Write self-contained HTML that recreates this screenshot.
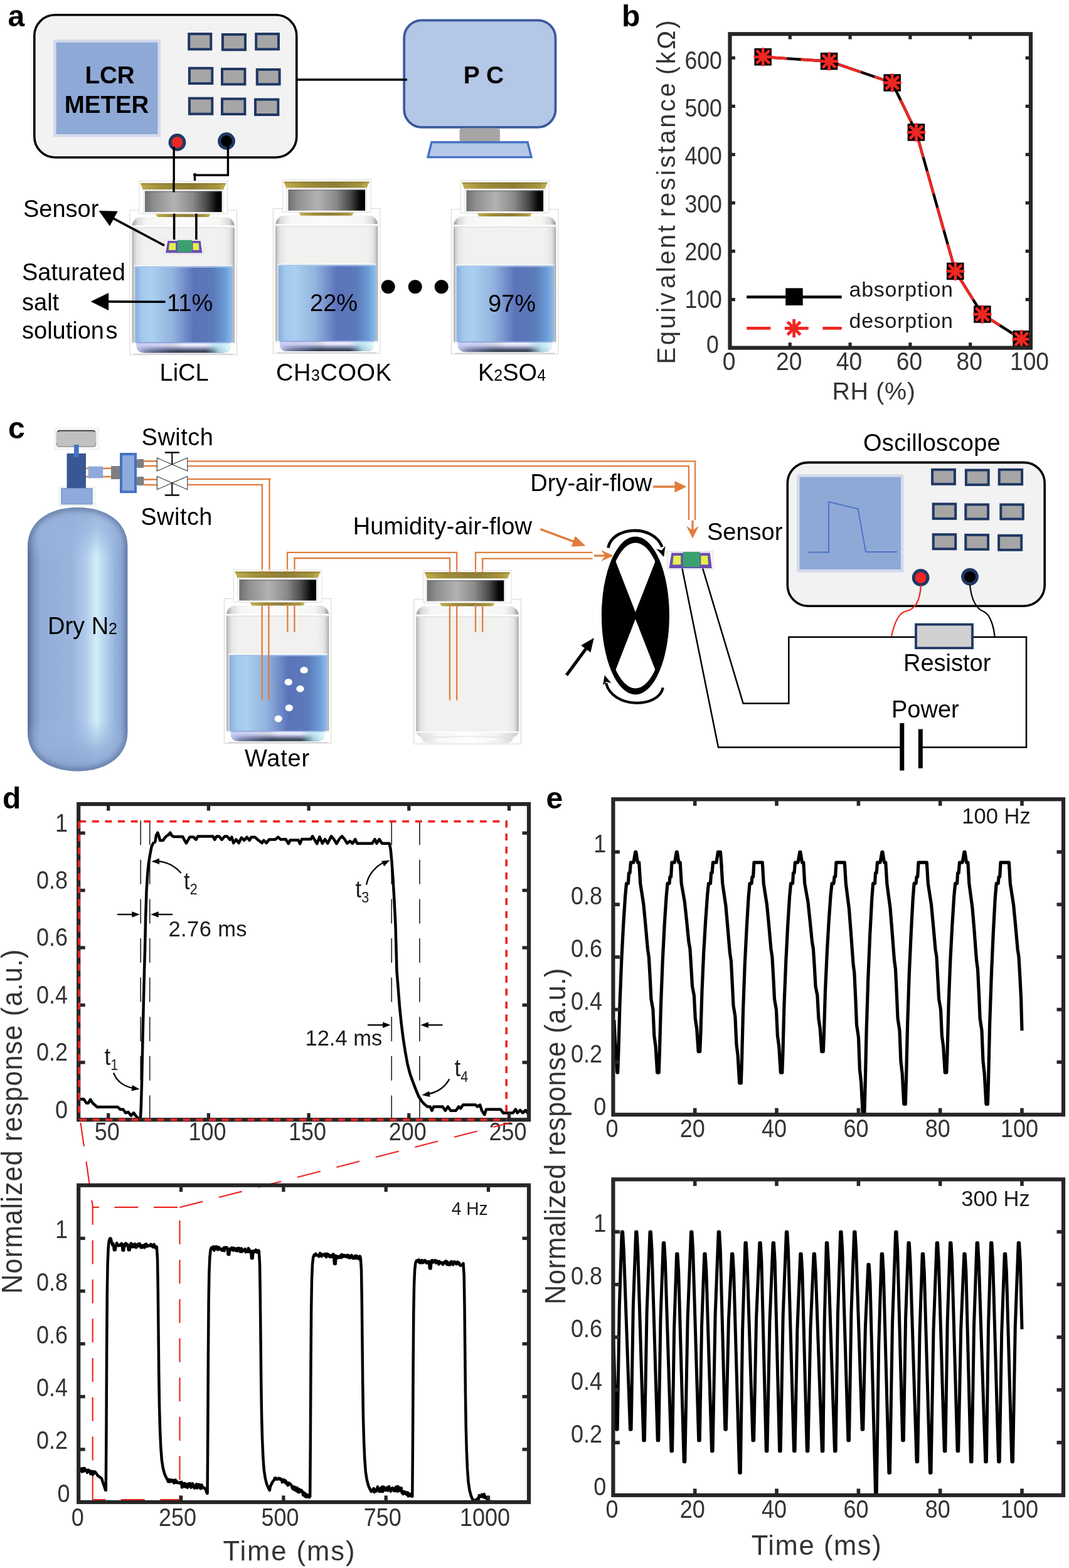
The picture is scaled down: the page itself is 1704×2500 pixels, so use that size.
<!DOCTYPE html>
<html lang="en"><head><meta charset="utf-8"><title>Figure</title>
<style>html,body{margin:0;padding:0;background:#fff}svg{display:block}text{font-family:'Liberation Sans', Arial, Helvetica, sans-serif}</style></head>
<body>
<svg width="1704" height="2500" viewBox="0 0 1704 2500" style="filter:blur(0.55px)">
<defs>
<linearGradient id="gLid" x1="0" x2="1" y1="0" y2="0">
 <stop offset="0" stop-color="#6f6f6f"/><stop offset="0.12" stop-color="#8f8f8f"/><stop offset="0.38" stop-color="#b2b2b2"/>
 <stop offset="0.62" stop-color="#8a8a8a"/><stop offset="0.8" stop-color="#4a4a4a"/><stop offset="0.93" stop-color="#080808"/><stop offset="1" stop-color="#000"/>
</linearGradient>
<linearGradient id="gGold" x1="0" x2="1" y1="0" y2="0">
 <stop offset="0" stop-color="#c2ae4c"/><stop offset="0.25" stop-color="#a08d3a"/><stop offset="0.6" stop-color="#8e7d36"/><stop offset="0.9" stop-color="#a8963f"/><stop offset="1" stop-color="#c9b755"/>
</linearGradient>
<linearGradient id="gGlass" x1="0" x2="1" y1="0" y2="0">
 <stop offset="0" stop-color="#a8a8a8"/><stop offset="0.02" stop-color="#cfcfcf"/><stop offset="0.05" stop-color="#e6e6e6"/><stop offset="0.11" stop-color="#f1f1ef"/>
 <stop offset="0.89" stop-color="#f1f1ef"/><stop offset="0.95" stop-color="#e6e6e6"/><stop offset="0.98" stop-color="#cccccc"/><stop offset="1" stop-color="#a0a0a0"/>
</linearGradient>
<linearGradient id="gLiq" x1="0" x2="1" y1="0" y2="0">
 <stop offset="0" stop-color="#86aee0"/><stop offset="0.07" stop-color="#a3c9ec"/><stop offset="0.17" stop-color="#a9d0ef"/><stop offset="0.38" stop-color="#92b3de"/>
 <stop offset="0.6" stop-color="#5c73bb"/><stop offset="0.8" stop-color="#5b7bb9"/><stop offset="0.92" stop-color="#6b9bd7"/><stop offset="1" stop-color="#8fbde9"/>
</linearGradient>
<linearGradient id="gShoulder" x1="0" x2="1" y1="0" y2="0">
 <stop offset="0" stop-color="#9c9c9c"/><stop offset="0.05" stop-color="#dcdcdc"/><stop offset="0.14" stop-color="#f6f6f5"/><stop offset="0.5" stop-color="#fbfbfb"/>
 <stop offset="0.86" stop-color="#f6f6f5"/><stop offset="0.95" stop-color="#dadada"/><stop offset="1" stop-color="#949494"/>
</linearGradient>
<linearGradient id="gFootV" x1="0" x2="0" y1="0" y2="1">
 <stop offset="0" stop-color="#b9c4ee"/><stop offset="0.16" stop-color="#f1f1ff"/><stop offset="0.36" stop-color="#dcdcf4"/><stop offset="0.56" stop-color="#9298b8"/>
 <stop offset="0.8" stop-color="#465268"/><stop offset="1" stop-color="#2c3646"/>
</linearGradient>
<linearGradient id="gFootH" x1="0" x2="1" y1="0" y2="0">
 <stop offset="0" stop-color="#c4cdf6" stop-opacity="0.95"/><stop offset="0.1" stop-color="#b4bcec" stop-opacity="0.55"/><stop offset="0.3" stop-color="#8890c8" stop-opacity="0.25"/><stop offset="0.5" stop-color="#000" stop-opacity="0"/>
 <stop offset="0.74" stop-color="#88c8d8" stop-opacity="0.0"/><stop offset="0.88" stop-color="#b8e6f0" stop-opacity="0.85"/><stop offset="1" stop-color="#e2fbff" stop-opacity="1"/>
</linearGradient>
<linearGradient id="gBot" x1="0" x2="1" y1="0" y2="0">
 <stop offset="0" stop-color="#c8d0ee"/><stop offset="0.2" stop-color="#b0b4d8"/><stop offset="0.5" stop-color="#50586a"/><stop offset="0.72" stop-color="#3a4a55"/><stop offset="0.9" stop-color="#9cc8d8"/><stop offset="1" stop-color="#d8f8ff"/>
</linearGradient>
<linearGradient id="gBotV" x1="0" x2="0" y1="0" y2="1">
 <stop offset="0" stop-color="#eef0ff" stop-opacity="0.95"/><stop offset="0.45" stop-color="#e0e4fa" stop-opacity="0.55"/><stop offset="1" stop-color="#fff" stop-opacity="0"/>
</linearGradient>
<linearGradient id="gBotE" x1="0" x2="1" y1="0" y2="0">
 <stop offset="0" stop-color="#d8d8d8"/><stop offset="0.2" stop-color="#f4f4f4"/><stop offset="0.5" stop-color="#ffffff"/><stop offset="0.8" stop-color="#f0f0f0"/><stop offset="1" stop-color="#d0d0d0"/>
</linearGradient>
<linearGradient id="gCyl" x1="0" x2="1" y1="0" y2="0">
 <stop offset="0" stop-color="#65779a"/><stop offset="0.04" stop-color="#7b93bd"/><stop offset="0.13" stop-color="#93add9"/><stop offset="0.45" stop-color="#9bb5de"/>
 <stop offset="0.58" stop-color="#afcbeb"/><stop offset="0.69" stop-color="#d3edf8"/><stop offset="0.78" stop-color="#b4d1ed"/><stop offset="0.88" stop-color="#94b1dc"/><stop offset="0.96" stop-color="#88a5d1"/><stop offset="1" stop-color="#7892bd"/>
</linearGradient>
<linearGradient id="gCylTop" x1="0" x2="0" y1="0" y2="1">
 <stop offset="0" stop-color="#93aed8" stop-opacity="0.9"/><stop offset="0.45" stop-color="#98b3dc" stop-opacity="0.7"/><stop offset="1" stop-color="#9ab5df" stop-opacity="0"/>
</linearGradient>
<linearGradient id="gCylBot" x1="0" x2="0" y1="1" y2="0">
 <stop offset="0" stop-color="#8aa5d0" stop-opacity="1"/><stop offset="0.45" stop-color="#92aed8" stop-opacity="0.8"/><stop offset="1" stop-color="#9ab5df" stop-opacity="0"/>
</linearGradient>
<linearGradient id="gHandle" x1="0" x2="0" y1="0" y2="1">
 <stop offset="0" stop-color="#3a3a3a"/><stop offset="0.12" stop-color="#9a9a9a"/><stop offset="0.25" stop-color="#c2c2c2"/><stop offset="0.85" stop-color="#bcbcbc"/><stop offset="1" stop-color="#a0a0a0"/>
</linearGradient>
</defs>
<text x="12.5" y="42.0" font-size="48" text-anchor="start" font-weight="bold" fill="#000" >a</text>
<rect x="54.8" y="23.8" width="418.0" height="227.2" rx="33" ry="33" fill="#f2f2f2" stroke="#000" stroke-width="3.6"/>
<rect x="85.0" y="63.0" width="171.0" height="155.5" fill="#d3dbeb"/>
<rect x="89.6" y="67.6" width="161.8" height="146.3" fill="#8fa9d7"/>
<rect x="301.2" y="54.1" width="35.1" height="24.4" fill="#a6a6a6" stroke="#1f3864" stroke-width="4"/>
<rect x="354.9" y="55.0" width="36.1" height="24.4" fill="#a6a6a6" stroke="#1f3864" stroke-width="4"/>
<rect x="408.2" y="54.1" width="35.8" height="24.4" fill="#a6a6a6" stroke="#1f3864" stroke-width="4"/>
<rect x="301.9" y="108.7" width="36.4" height="24.4" fill="#a6a6a6" stroke="#1f3864" stroke-width="4"/>
<rect x="354.0" y="110.0" width="36.4" height="24.4" fill="#a6a6a6" stroke="#1f3864" stroke-width="4"/>
<rect x="409.8" y="110.9" width="35.8" height="23.5" fill="#a6a6a6" stroke="#1f3864" stroke-width="4"/>
<rect x="301.9" y="156.7" width="36.4" height="25.0" fill="#a6a6a6" stroke="#1f3864" stroke-width="4"/>
<rect x="354.0" y="157.6" width="36.4" height="24.4" fill="#a6a6a6" stroke="#1f3864" stroke-width="4"/>
<rect x="407.0" y="158.6" width="36.4" height="24.4" fill="#a6a6a6" stroke="#1f3864" stroke-width="4"/>
<circle cx="282.5" cy="227.0" r="11.4" fill="#ee2722" stroke="#1f3864" stroke-width="5.0"/>
<circle cx="361.0" cy="225.0" r="11.4" fill="#000" stroke="#1f3864" stroke-width="5.0"/>
<path d="M277.2,234 V307" fill="none" stroke="#000" stroke-width="3.4"/>
<path d="M363.4,232 V279.2 H310.5 V288.5" fill="none" stroke="#000" stroke-width="3.4"/>
<circle cx="310.5" cy="278.6" r="2.6" fill="#000"/>
<text x="175.0" y="132.5" font-size="38.5" text-anchor="middle" font-weight="bold" fill="#000" >LCR</text>
<text x="170.0" y="179.5" font-size="38.5" text-anchor="middle" font-weight="bold" fill="#000" >METER</text>
<rect x="644.2" y="32.4" width="241.3" height="170.4" rx="28" ry="28" fill="#b4c7e7" stroke="#3c5a9a" stroke-width="3.8"/>
<line x1="473" y1="127" x2="649" y2="127" stroke="#000" stroke-width="3.6"/>
<rect x="732.5" y="204.5" width="64.5" height="22" rx="4" fill="#a6a6a6"/>
<polygon points="688,226.8 841,226.8 847,250.6 682,250.6" fill="#b4c7e7" stroke="#4472c4" stroke-width="3.4"/>
<text x="771.0" y="132.5" font-size="39" text-anchor="middle" font-weight="bold" fill="#000" >P C</text>
<g transform="translate(206.9,334.9)">
<rect x="0" y="0" width="170.5" height="230.8" fill="#fff" stroke="#d4d4d4" stroke-width="1"/>
<g transform="translate(0,1.3)">
<path d="M15,9.6 H155.5 Q166.9,13 166.9,25 V212 H3.6 V25 Q3.6,13 15,9.6 Z" fill="url(#gGlass)"/>
<path d="M4.2,25 Q4.2,14.5 15,10.6 H155.5 Q166.3,14.5 166.3,25 Z" fill="url(#gShoulder)"/>
<rect x="3.8" y="23.2" width="162.9" height="2.8" fill="#fdfdfd"/>
<rect x="3.8" y="26" width="162.9" height="1.4" fill="#dadada" opacity="0.8"/>
<rect x="7" y="86.6" width="157.2" height="2" fill="#fafafa"/>
<rect x="8.6" y="88.4" width="155.4" height="121.6" fill="url(#gLiq)"/>
<rect x="8.6" y="88.4" width="155.4" height="2.2" fill="#a6c6ec" opacity="0.8"/>
<rect x="3.6" y="209.8" width="163.3" height="3" fill="#f4f4f4"/>
<path d="M10.4,209.6 H160.6 V213.5 Q160.6,226.2 147,226.2 H24 Q10.4,226.2 10.4,213.5 Z" fill="url(#gFootV)"/>
<path d="M10.4,209.6 H160.6 V213.5 Q160.6,226.2 147,226.2 H24 Q10.4,226.2 10.4,213.5 Z" fill="url(#gFootH)"/>
<rect x="10.4" y="209.4" width="150.2" height="1.6" fill="#7f98d6" opacity="0.75"/>
<path d="M6,228.3 H164.5" stroke="#d2d2d2" stroke-width="1.6" fill="none"/>
</g>
<rect x="15" y="-46.1" width="140.6" height="51.9" fill="#fff" stroke="#dcdcdc" stroke-width="1"/>
<polygon points="16.8,-43 153.6,-43 149.3,-33 20.8,-33" fill="url(#gGold)"/>
<polygon points="16.8,-43 153.6,-43 152.6,-40.6 17.8,-40.6" fill="#6f6022" opacity="0.35"/>
<rect x="21.4" y="-32.4" width="127.7" height="38.4" fill="#fbfbfb" stroke="#dedede" stroke-width="0.8"/>
<rect x="24.0" y="-30.2" width="122.7" height="33.4" fill="url(#gLid)"/>
<rect x="24.0" y="-30.2" width="122.7" height="1.6" fill="#555" opacity="0.5"/>
<polygon points="41.2,6.3 128.6,6.3 125.8,11.2 44,11.2" fill="url(#gGold)"/>
</g>
<g transform="translate(435.4,332.6)">
<rect x="0" y="0" width="170.5" height="230.8" fill="#fff" stroke="#d4d4d4" stroke-width="1"/>
<g transform="translate(0,1.3)">
<path d="M15,9.6 H155.5 Q166.9,13 166.9,25 V212 H3.6 V25 Q3.6,13 15,9.6 Z" fill="url(#gGlass)"/>
<path d="M4.2,25 Q4.2,14.5 15,10.6 H155.5 Q166.3,14.5 166.3,25 Z" fill="url(#gShoulder)"/>
<rect x="3.8" y="23.2" width="162.9" height="2.8" fill="#fdfdfd"/>
<rect x="3.8" y="26" width="162.9" height="1.4" fill="#dadada" opacity="0.8"/>
<rect x="7" y="86.6" width="157.2" height="2" fill="#fafafa"/>
<rect x="8.6" y="88.4" width="155.4" height="121.6" fill="url(#gLiq)"/>
<rect x="8.6" y="88.4" width="155.4" height="2.2" fill="#a6c6ec" opacity="0.8"/>
<rect x="3.6" y="209.8" width="163.3" height="3" fill="#f4f4f4"/>
<path d="M10.4,209.6 H160.6 V213.5 Q160.6,226.2 147,226.2 H24 Q10.4,226.2 10.4,213.5 Z" fill="url(#gFootV)"/>
<path d="M10.4,209.6 H160.6 V213.5 Q160.6,226.2 147,226.2 H24 Q10.4,226.2 10.4,213.5 Z" fill="url(#gFootH)"/>
<rect x="10.4" y="209.4" width="150.2" height="1.6" fill="#7f98d6" opacity="0.75"/>
<path d="M6,228.3 H164.5" stroke="#d2d2d2" stroke-width="1.6" fill="none"/>
</g>
<rect x="15" y="-46.1" width="140.6" height="51.9" fill="#fff" stroke="#dcdcdc" stroke-width="1"/>
<polygon points="16.8,-43 153.6,-43 149.3,-33 20.8,-33" fill="url(#gGold)"/>
<polygon points="16.8,-43 153.6,-43 152.6,-40.6 17.8,-40.6" fill="#6f6022" opacity="0.35"/>
<rect x="21.4" y="-32.4" width="127.7" height="38.4" fill="#fbfbfb" stroke="#dedede" stroke-width="0.8"/>
<rect x="24.0" y="-30.2" width="122.7" height="33.4" fill="url(#gLid)"/>
<rect x="24.0" y="-30.2" width="122.7" height="1.6" fill="#555" opacity="0.5"/>
<polygon points="41.2,6.3 128.6,6.3 125.8,11.2 44,11.2" fill="url(#gGold)"/>
</g>
<g transform="translate(719.4,333.8)">
<rect x="0" y="0" width="170.5" height="230.8" fill="#fff" stroke="#d4d4d4" stroke-width="1"/>
<g transform="translate(0,1.3)">
<path d="M15,9.6 H155.5 Q166.9,13 166.9,25 V212 H3.6 V25 Q3.6,13 15,9.6 Z" fill="url(#gGlass)"/>
<path d="M4.2,25 Q4.2,14.5 15,10.6 H155.5 Q166.3,14.5 166.3,25 Z" fill="url(#gShoulder)"/>
<rect x="3.8" y="23.2" width="162.9" height="2.8" fill="#fdfdfd"/>
<rect x="3.8" y="26" width="162.9" height="1.4" fill="#dadada" opacity="0.8"/>
<rect x="7" y="86.6" width="157.2" height="2" fill="#fafafa"/>
<rect x="8.6" y="88.4" width="155.4" height="121.6" fill="url(#gLiq)"/>
<rect x="8.6" y="88.4" width="155.4" height="2.2" fill="#a6c6ec" opacity="0.8"/>
<rect x="3.6" y="209.8" width="163.3" height="3" fill="#f4f4f4"/>
<path d="M10.4,209.6 H160.6 V213.5 Q160.6,226.2 147,226.2 H24 Q10.4,226.2 10.4,213.5 Z" fill="url(#gFootV)"/>
<path d="M10.4,209.6 H160.6 V213.5 Q160.6,226.2 147,226.2 H24 Q10.4,226.2 10.4,213.5 Z" fill="url(#gFootH)"/>
<rect x="10.4" y="209.4" width="150.2" height="1.6" fill="#7f98d6" opacity="0.75"/>
<path d="M6,228.3 H164.5" stroke="#d2d2d2" stroke-width="1.6" fill="none"/>
</g>
<rect x="15" y="-46.1" width="140.6" height="51.9" fill="#fff" stroke="#dcdcdc" stroke-width="1"/>
<polygon points="16.8,-43 153.6,-43 149.3,-33 20.8,-33" fill="url(#gGold)"/>
<polygon points="16.8,-43 153.6,-43 152.6,-40.6 17.8,-40.6" fill="#6f6022" opacity="0.35"/>
<rect x="21.4" y="-32.4" width="127.7" height="38.4" fill="#fbfbfb" stroke="#dedede" stroke-width="0.8"/>
<rect x="24.0" y="-30.2" width="122.7" height="33.4" fill="url(#gLid)"/>
<rect x="24.0" y="-30.2" width="122.7" height="1.6" fill="#555" opacity="0.5"/>
<polygon points="41.2,6.3 128.6,6.3 125.8,11.2 44,11.2" fill="url(#gGold)"/>
</g>
<line x1="277" y1="288" x2="277" y2="306.5" stroke="#000" stroke-width="3.4"/>
<line x1="277.6" y1="340.7" x2="277.6" y2="383" stroke="#000" stroke-width="3.6"/>
<line x1="312.9" y1="340.7" x2="312.9" y2="383" stroke="#000" stroke-width="3.6"/>
<g transform="translate(264.0,383.3) scale(1.0034,1.0000)">
<rect x="-2.5" y="-1" width="62.5" height="22.5" fill="#fafafa" stroke="#d8d8d8" stroke-width="0.8"/>
<polygon points="3.3,0.7 55.6,0.7 58.2,20 0,20" fill="#6b4db2"/>
<rect x="18.8" y="-0.4" width="23.2" height="18.8" fill="#3aa06f"/>
<polygon points="6,4.3 16,4.3 16,15.5 4.8,15.5" fill="#e3f04d"/>
<polygon points="43.3,4.3 52.6,4.3 53.4,15.5 43.3,15.5" fill="#e3f04d"/>
</g>
<line x1="262.0" y1="391.4" x2="180.9" y2="348.4" stroke="#000" stroke-width="3.6"/>
<polygon points="157.5,336.0 187.7,336.7 181.4,348.6 175.0,360.6" fill="#000"/>
<line x1="263.6" y1="481.2" x2="172.6" y2="480.9" stroke="#000" stroke-width="3.6"/>
<polygon points="144.6,480.8 173.1,466.9 173.1,480.9 173.1,494.9" fill="#000"/>
<text x="37.0" y="346.0" font-size="38" text-anchor="start" font-weight="normal" fill="#000" >Sensor</text>
<text x="35.0" y="447.0" font-size="38" text-anchor="start" font-weight="normal" fill="#000" >Saturated</text>
<text x="35.0" y="494.6" font-size="38" text-anchor="start" font-weight="normal" fill="#000" >salt</text>
<text x="35.0" y="539.8" font-size="38" text-anchor="start" font-weight="normal" fill="#000" >solution<tspan dx="2.4">s</tspan></text>
<text x="266.0" y="495.6" font-size="38" text-anchor="start" font-weight="normal" fill="#000" >11%</text>
<text x="494.0" y="495.6" font-size="38" text-anchor="start" font-weight="normal" fill="#000" >22%</text>
<text x="778.0" y="496.6" font-size="38" text-anchor="start" font-weight="normal" fill="#000" >97%</text>
<circle cx="618.7" cy="457.3" r="11" fill="#000"/>
<circle cx="661.7" cy="457.3" r="11" fill="#000"/>
<circle cx="703.7" cy="457.3" r="11" fill="#000"/>
<text x="254.5" y="606.7" font-size="38" text-anchor="start" font-weight="normal" fill="#000" >LiCL</text>
<text x="440.0" y="606.7" font-size="38" text-anchor="start" font-weight="normal" fill="#000" letter-spacing="0.55">CH<tspan font-size="25">3</tspan>COOK</text>
<text x="762.0" y="606.7" font-size="38" text-anchor="start" font-weight="normal" fill="#000" >K<tspan font-size="25">2</tspan>SO<tspan font-size="25">4</tspan></text>
<text x="991.0" y="42.0" font-size="48" text-anchor="start" font-weight="bold" fill="#000" >b</text>
<path d="M1216.2,90.8 L1321.6,97.7 L1422.2,132.0 L1460.5,211.0 L1522.8,432.5 L1565.9,501.1 L1628.1,540.7" fill="none" stroke="#000" stroke-width="4.4" stroke-linejoin="round" stroke-linecap="butt" />
<path d="M1216.2,90.8 L1321.6,97.7 L1422.2,132.0 L1460.5,211.0 L1522.8,432.5 L1565.9,501.1 L1628.1,540.7" fill="none" stroke="#ee2722" stroke-width="4.4" stroke-linejoin="round" stroke-linecap="butt" stroke-dasharray="38 22.6"/>
<rect x="1202.4" y="77.0" width="27.5" height="27.5" fill="#000"/>
<rect x="1307.8" y="83.9" width="27.5" height="27.5" fill="#000"/>
<rect x="1408.4" y="118.2" width="27.5" height="27.5" fill="#000"/>
<rect x="1446.7" y="197.2" width="27.5" height="27.5" fill="#000"/>
<rect x="1509.0" y="418.7" width="27.5" height="27.5" fill="#000"/>
<rect x="1552.1" y="487.3" width="27.5" height="27.5" fill="#000"/>
<rect x="1614.4" y="527.0" width="27.5" height="27.5" fill="#000"/>
<line x1="1201.6" y1="90.8" x2="1230.8" y2="90.8" stroke="#ee2722" stroke-width="4.8"/>
<line x1="1205.9" y1="80.4" x2="1226.5" y2="101.1" stroke="#ee2722" stroke-width="4.8"/>
<line x1="1216.2" y1="76.2" x2="1216.2" y2="105.4" stroke="#ee2722" stroke-width="4.8"/>
<line x1="1226.5" y1="80.4" x2="1205.9" y2="101.1" stroke="#ee2722" stroke-width="4.8"/>
<line x1="1307.0" y1="97.7" x2="1336.2" y2="97.7" stroke="#ee2722" stroke-width="4.8"/>
<line x1="1311.2" y1="87.4" x2="1331.9" y2="108.0" stroke="#ee2722" stroke-width="4.8"/>
<line x1="1321.6" y1="83.1" x2="1321.6" y2="112.3" stroke="#ee2722" stroke-width="4.8"/>
<line x1="1331.9" y1="87.4" x2="1311.2" y2="108.0" stroke="#ee2722" stroke-width="4.8"/>
<line x1="1407.6" y1="132.0" x2="1436.8" y2="132.0" stroke="#ee2722" stroke-width="4.8"/>
<line x1="1411.8" y1="121.7" x2="1432.5" y2="142.3" stroke="#ee2722" stroke-width="4.8"/>
<line x1="1422.2" y1="117.4" x2="1422.2" y2="146.6" stroke="#ee2722" stroke-width="4.8"/>
<line x1="1432.5" y1="121.7" x2="1411.8" y2="142.3" stroke="#ee2722" stroke-width="4.8"/>
<line x1="1445.9" y1="211.0" x2="1475.1" y2="211.0" stroke="#ee2722" stroke-width="4.8"/>
<line x1="1450.2" y1="200.6" x2="1470.8" y2="221.3" stroke="#ee2722" stroke-width="4.8"/>
<line x1="1460.5" y1="196.4" x2="1460.5" y2="225.6" stroke="#ee2722" stroke-width="4.8"/>
<line x1="1470.8" y1="200.6" x2="1450.2" y2="221.3" stroke="#ee2722" stroke-width="4.8"/>
<line x1="1508.2" y1="432.5" x2="1537.3" y2="432.5" stroke="#ee2722" stroke-width="4.8"/>
<line x1="1512.4" y1="422.2" x2="1533.1" y2="442.8" stroke="#ee2722" stroke-width="4.8"/>
<line x1="1522.8" y1="417.9" x2="1522.8" y2="447.1" stroke="#ee2722" stroke-width="4.8"/>
<line x1="1533.1" y1="422.2" x2="1512.4" y2="442.8" stroke="#ee2722" stroke-width="4.8"/>
<line x1="1551.3" y1="501.1" x2="1580.5" y2="501.1" stroke="#ee2722" stroke-width="4.8"/>
<line x1="1555.5" y1="490.7" x2="1576.2" y2="511.4" stroke="#ee2722" stroke-width="4.8"/>
<line x1="1565.9" y1="486.5" x2="1565.9" y2="515.7" stroke="#ee2722" stroke-width="4.8"/>
<line x1="1576.2" y1="490.7" x2="1555.5" y2="511.4" stroke="#ee2722" stroke-width="4.8"/>
<line x1="1613.5" y1="540.7" x2="1642.7" y2="540.7" stroke="#ee2722" stroke-width="4.8"/>
<line x1="1617.8" y1="530.4" x2="1638.5" y2="551.1" stroke="#ee2722" stroke-width="4.8"/>
<line x1="1628.1" y1="526.1" x2="1628.1" y2="555.3" stroke="#ee2722" stroke-width="4.8"/>
<line x1="1638.5" y1="530.4" x2="1617.8" y2="551.1" stroke="#ee2722" stroke-width="4.8"/>
<line x1="1190.2" y1="473.4" x2="1341.7" y2="473.4" stroke="#000" stroke-width="4.5"/>
<rect x="1252.2" y="459.4" width="27.5" height="27.5" fill="#000"/>
<line x1="1190.2" y1="523.4" x2="1341.7" y2="523.4" stroke="#ee2722" stroke-width="4.6" stroke-dasharray="38 22.6"/>
<line x1="1251.0" y1="523.4" x2="1280.2" y2="523.4" stroke="#ee2722" stroke-width="4.8"/>
<line x1="1255.3" y1="513.1" x2="1275.9" y2="533.7" stroke="#ee2722" stroke-width="4.8"/>
<line x1="1265.6" y1="508.8" x2="1265.6" y2="538.0" stroke="#ee2722" stroke-width="4.8"/>
<line x1="1275.9" y1="513.1" x2="1255.3" y2="533.7" stroke="#ee2722" stroke-width="4.8"/>
<text x="1353.5" y="472.7" font-size="34" text-anchor="start" font-weight="normal" fill="#1a1a1a" letter-spacing="0.75">absorption</text>
<text x="1353.5" y="522.7" font-size="34" text-anchor="start" font-weight="normal" fill="#1a1a1a" letter-spacing="0.75">desorption</text>
<line x1="1259.3" y1="554.6" x2="1259.3" y2="546.2" stroke="#262626" stroke-width="5.2"/>
<line x1="1259.3" y1="54.2" x2="1259.3" y2="62.6" stroke="#262626" stroke-width="5.2"/>
<line x1="1355.1" y1="554.6" x2="1355.1" y2="546.2" stroke="#262626" stroke-width="5.2"/>
<line x1="1355.1" y1="54.2" x2="1355.1" y2="62.6" stroke="#262626" stroke-width="5.2"/>
<line x1="1450.9" y1="554.6" x2="1450.9" y2="546.2" stroke="#262626" stroke-width="5.2"/>
<line x1="1450.9" y1="54.2" x2="1450.9" y2="62.6" stroke="#262626" stroke-width="5.2"/>
<line x1="1546.7" y1="554.6" x2="1546.7" y2="546.2" stroke="#262626" stroke-width="5.2"/>
<line x1="1546.7" y1="54.2" x2="1546.7" y2="62.6" stroke="#262626" stroke-width="5.2"/>
<line x1="1163.5" y1="477.6" x2="1171.9" y2="477.6" stroke="#262626" stroke-width="5.2"/>
<line x1="1643.0" y1="477.6" x2="1634.6" y2="477.6" stroke="#262626" stroke-width="5.2"/>
<line x1="1163.5" y1="400.5" x2="1171.9" y2="400.5" stroke="#262626" stroke-width="5.2"/>
<line x1="1643.0" y1="400.5" x2="1634.6" y2="400.5" stroke="#262626" stroke-width="5.2"/>
<line x1="1163.5" y1="323.5" x2="1171.9" y2="323.5" stroke="#262626" stroke-width="5.2"/>
<line x1="1643.0" y1="323.5" x2="1634.6" y2="323.5" stroke="#262626" stroke-width="5.2"/>
<line x1="1163.5" y1="246.4" x2="1171.9" y2="246.4" stroke="#262626" stroke-width="5.2"/>
<line x1="1643.0" y1="246.4" x2="1634.6" y2="246.4" stroke="#262626" stroke-width="5.2"/>
<line x1="1163.5" y1="169.4" x2="1171.9" y2="169.4" stroke="#262626" stroke-width="5.2"/>
<line x1="1643.0" y1="169.4" x2="1634.6" y2="169.4" stroke="#262626" stroke-width="5.2"/>
<line x1="1163.5" y1="92.3" x2="1171.9" y2="92.3" stroke="#262626" stroke-width="5.2"/>
<line x1="1643.0" y1="92.3" x2="1634.6" y2="92.3" stroke="#262626" stroke-width="5.2"/>
<rect x="1163.5" y="54.2" width="479.5" height="500.4" fill="none" stroke="#262626" stroke-width="6.2"/>
<text transform="translate(1162.0,590.0) scale(0.93,1)" font-size="40" text-anchor="middle" fill="#333333" >0</text>
<text transform="translate(1257.8,590.0) scale(0.93,1)" font-size="40" text-anchor="middle" fill="#333333" >20</text>
<text transform="translate(1353.6,590.0) scale(0.93,1)" font-size="40" text-anchor="middle" fill="#333333" >40</text>
<text transform="translate(1449.4,590.0) scale(0.93,1)" font-size="40" text-anchor="middle" fill="#333333" >60</text>
<text transform="translate(1545.2,590.0) scale(0.93,1)" font-size="40" text-anchor="middle" fill="#333333" >80</text>
<text transform="translate(1641.0,590.0) scale(0.93,1)" font-size="40" text-anchor="middle" fill="#333333" >100</text>
<text transform="translate(1145.8,563.0) scale(0.89,1)" font-size="40" text-anchor="end" fill="#333333" >0</text>
<text transform="translate(1150.8,491.2) scale(0.89,1)" font-size="40" text-anchor="end" fill="#333333" >100</text>
<text transform="translate(1150.8,414.8) scale(0.89,1)" font-size="40" text-anchor="end" fill="#333333" >200</text>
<text transform="translate(1150.8,338.5) scale(0.89,1)" font-size="40" text-anchor="end" fill="#333333" >300</text>
<text transform="translate(1150.8,262.1) scale(0.89,1)" font-size="40" text-anchor="end" fill="#333333" >400</text>
<text transform="translate(1150.8,185.8) scale(0.89,1)" font-size="40" text-anchor="end" fill="#333333" >500</text>
<text transform="translate(1150.8,109.5) scale(0.89,1)" font-size="40" text-anchor="end" fill="#333333" >600</text>
<text x="1393.0" y="637.3" font-size="39.5" text-anchor="middle" font-weight="normal" fill="#333333" letter-spacing="0.6">RH (%)</text>
<text transform="translate(1076.0,304.6) rotate(-90) scale(1.0,1)" font-size="40" text-anchor="middle" fill="#333333" letter-spacing="3.5" word-spacing="-5">Equiv<tspan dx="3">alent</tspan> resistance (kΩ)</text>
<text x="13.0" y="698.5" font-size="48" text-anchor="start" font-weight="bold" fill="#000" >c</text>
<path d="M44.1,871.0 C44.1,833.8 75.9,809.0 123.7,809.0 C171.5,809.0 203.3,833.8 203.3,871.0 V1167.6 C203.3,1204.8 171.5,1229.6 123.7,1229.6 C75.9,1229.6 44.1,1204.8 44.1,1167.6 Z" fill="url(#gCyl)"/>
<clipPath id="cpCyl"><path d="M44.1,871.0 C44.1,833.8 75.9,809.0 123.7,809.0 C171.5,809.0 203.3,833.8 203.3,871.0 V1167.6 C203.3,1204.8 171.5,1229.6 123.7,1229.6 C75.9,1229.6 44.1,1204.8 44.1,1167.6 Z"/></clipPath>
<filter id="fBlur" x="-20%" y="-20%" width="140%" height="140%"><feGaussianBlur stdDeviation="4.5"/></filter>
<g clip-path="url(#cpCyl)"><rect x="43" y="809" width="162" height="80" fill="url(#gCylTop)"/><rect x="43" y="1150" width="162" height="80" fill="url(#gCylBot)"/><path d="M44.1,871.0 C44.1,833.8 75.9,809.0 123.7,809.0 C171.5,809.0 203.3,833.8 203.3,871.0 V1167.6 C203.3,1204.8 171.5,1229.6 123.7,1229.6 C75.9,1229.6 44.1,1204.8 44.1,1167.6 Z" fill="none" stroke="#556a92" stroke-width="9" opacity="0.75" filter="url(#fBlur)"/></g>
<text x="131.5" y="1011.0" font-size="38" text-anchor="middle" font-weight="normal" fill="#000" >Dry N<tspan font-size="25">2</tspan></text>
<rect x="87.5" y="682.5" width="69" height="33.5" fill="#fff" stroke="#dcdcdc" stroke-width="0.8"/>
<rect x="89.5" y="686" width="64" height="27" rx="5" fill="#c1c0c0"/>
<path d="M92,688.6 Q92.5,686.6 95,686.6 H148 Q150.5,686.6 151,688.6" fill="none" stroke="#2a2a2a" stroke-width="1.8"/>
<path d="M90.2,706 Q90.4,712.4 95,712.4 H148 Q152.6,712.4 152.8,706" fill="none" stroke="#8e8e8e" stroke-width="1.2"/>
<rect x="94" y="776" width="57" height="30.5" fill="#fff" stroke="#dcdcdc" stroke-width="0.8"/>
<rect x="106.5" y="723" width="30.5" height="56" fill="#3a5795"/>
<rect x="118" y="709" width="7.6" height="20" fill="#4472c4"/>
<rect x="97.8" y="778.8" width="49.2" height="25" fill="#8faadc" stroke="#7c97cb" stroke-width="1.4"/>
<path d="M137,746.8 H180 M137,760 H180" fill="none" stroke="#e07d3c" stroke-width="2.4" stroke-linejoin="miter"/>
<rect x="140.6" y="743.6" width="23.6" height="18.8" fill="#8faadc"/>
<rect x="177" y="743" width="16.5" height="21" fill="#7f7f7f"/>
<rect x="193" y="724" width="23" height="60.2" fill="#8faadc" stroke="#4472c4" stroke-width="4"/>
<rect x="218" y="732" width="11.5" height="14" rx="2" fill="#7f7f7f"/>
<rect x="218" y="760" width="11.5" height="14" rx="2" fill="#7f7f7f"/>
<path d="M229.5,735.3 H251 M229.5,743 H251 M229.5,764.5 H251 M229.5,773 H251" fill="none" stroke="#e07d3c" stroke-width="2.4" stroke-linejoin="miter"/>
<polygon points="250.3,730.0 274.3,740.5 250.3,751.0" fill="#fff" stroke="#333" stroke-width="1.1"/>
<polygon points="298.8,730.0 274.3,740.5 298.8,751.0" fill="#fff" stroke="#333" stroke-width="1.1"/>
<line x1="274.3" y1="740.5" x2="274.3" y2="721.5" stroke="#000" stroke-width="2"/>
<line x1="262.8" y1="721.5" x2="285.8" y2="721.5" stroke="#000" stroke-width="2.4"/>
<polygon points="250.3,759.5 274.3,770 250.3,780.5" fill="#fff" stroke="#333" stroke-width="1.1"/>
<polygon points="298.8,759.5 274.3,770 298.8,780.5" fill="#fff" stroke="#333" stroke-width="1.1"/>
<line x1="274.3" y1="770" x2="274.3" y2="789.5" stroke="#000" stroke-width="2"/>
<line x1="262.8" y1="789.5" x2="285.8" y2="789.5" stroke="#000" stroke-width="2.4"/>
<text x="225.6" y="709.7" font-size="38" text-anchor="start" font-weight="normal" fill="#000" letter-spacing="0.45">Switch</text>
<text x="224.3" y="836.7" font-size="38" text-anchor="start" font-weight="normal" fill="#000" letter-spacing="0.45">Switch</text>
<path d="M299,735.4 H1108 V829  M299,743.2 H1098 V829" fill="none" stroke="#e07d3c" stroke-width="2.3" stroke-linejoin="miter"/>
<path d="M299,763.8 H429.5 V911  M299,772.8 H417.8 V911" fill="none" stroke="#e07d3c" stroke-width="2.3" stroke-linejoin="miter"/>
<path d="M429.5,763.8 h2" fill="none" stroke="#e07d3c" stroke-width="2.3" stroke-linejoin="miter"/>
<path d="M458,911 V880.8 H728.2 V911  M469.5,911 V890 H717 V911" fill="none" stroke="#e07d3c" stroke-width="2.3" stroke-linejoin="miter"/>
<path d="M758,911 V880.8 H944.5  M769.2,911 V890.6 H944.5" fill="none" stroke="#e07d3c" stroke-width="2.3" stroke-linejoin="miter"/>
<g transform="translate(357.4,954.3)">
<rect x="0" y="0" width="170.5" height="230.8" fill="#fff" stroke="#d4d4d4" stroke-width="1"/>
<g transform="translate(0,1.3)">
<path d="M15,9.6 H155.5 Q166.9,13 166.9,25 V212 H3.6 V25 Q3.6,13 15,9.6 Z" fill="url(#gGlass)"/>
<path d="M4.2,25 Q4.2,14.5 15,10.6 H155.5 Q166.3,14.5 166.3,25 Z" fill="url(#gShoulder)"/>
<rect x="3.8" y="23.2" width="162.9" height="2.8" fill="#fdfdfd"/>
<rect x="3.8" y="26" width="162.9" height="1.4" fill="#dadada" opacity="0.8"/>
<rect x="7" y="86.6" width="157.2" height="2" fill="#fafafa"/>
<rect x="8.6" y="88.4" width="155.4" height="121.6" fill="url(#gLiq)"/>
<rect x="8.6" y="88.4" width="155.4" height="2.2" fill="#a6c6ec" opacity="0.8"/>
<rect x="3.6" y="209.8" width="163.3" height="3" fill="#f4f4f4"/>
<path d="M10.4,209.6 H160.6 V213.5 Q160.6,226.2 147,226.2 H24 Q10.4,226.2 10.4,213.5 Z" fill="url(#gFootV)"/>
<path d="M10.4,209.6 H160.6 V213.5 Q160.6,226.2 147,226.2 H24 Q10.4,226.2 10.4,213.5 Z" fill="url(#gFootH)"/>
<rect x="10.4" y="209.4" width="150.2" height="1.6" fill="#7f98d6" opacity="0.75"/>
<path d="M6,228.3 H164.5" stroke="#d2d2d2" stroke-width="1.6" fill="none"/>
</g>
<rect x="15" y="-46.1" width="140.6" height="51.9" fill="#fff" stroke="#dcdcdc" stroke-width="1"/>
<polygon points="16.8,-43 153.6,-43 149.3,-33 20.8,-33" fill="url(#gGold)"/>
<polygon points="16.8,-43 153.6,-43 152.6,-40.6 17.8,-40.6" fill="#6f6022" opacity="0.35"/>
<rect x="21.4" y="-32.4" width="127.7" height="38.4" fill="#fbfbfb" stroke="#dedede" stroke-width="0.8"/>
<rect x="24.0" y="-30.2" width="122.7" height="33.4" fill="url(#gLid)"/>
<rect x="24.0" y="-30.2" width="122.7" height="1.6" fill="#555" opacity="0.5"/>
<polygon points="41.2,6.3 128.6,6.3 125.8,11.2 44,11.2" fill="url(#gGold)"/>
</g>
<g transform="translate(659.8,955.3)">
<rect x="0" y="0" width="170.5" height="230.8" fill="#fff" stroke="#d4d4d4" stroke-width="1"/>
<g transform="translate(0,1.3)">
<path d="M15,9.6 H155.5 Q166.9,13 166.9,25 V212 H3.6 V25 Q3.6,13 15,9.6 Z" fill="url(#gGlass)"/>
<path d="M4.2,25 Q4.2,14.5 15,10.6 H155.5 Q166.3,14.5 166.3,25 Z" fill="url(#gShoulder)"/>
<rect x="3.8" y="23.2" width="162.9" height="2.8" fill="#fdfdfd"/>
<rect x="3.8" y="26" width="162.9" height="1.4" fill="#dadada" opacity="0.8"/>
<rect x="3.6" y="209.5" width="163.3" height="2.6" fill="#fbfbfb"/>
<path d="M4.2,212 H166.3 Q165,217 158.6,219 Q157.5,228.4 145,228.4 H25.5 Q13,228.4 12,219 Q5.5,217 4.2,212 Z" fill="url(#gBotE)"/>
<path d="M12,219 Q85,216 158.6,219" fill="none" stroke="#e4e4e4" stroke-width="1.4"/>
<path d="M40,222.5 Q85,224.5 130,222.5" fill="none" stroke="#fff" stroke-width="2.4"/>
</g>
<rect x="15" y="-46.1" width="140.6" height="51.9" fill="#fff" stroke="#dcdcdc" stroke-width="1"/>
<polygon points="16.8,-43 153.6,-43 149.3,-33 20.8,-33" fill="url(#gGold)"/>
<polygon points="16.8,-43 153.6,-43 152.6,-40.6 17.8,-40.6" fill="#6f6022" opacity="0.35"/>
<rect x="18.2" y="-32.4" width="127.7" height="38.4" fill="#fbfbfb" stroke="#dedede" stroke-width="0.8"/>
<rect x="20.8" y="-30.2" width="122.7" height="33.4" fill="url(#gLid)"/>
<rect x="20.8" y="-30.2" width="122.7" height="1.6" fill="#555" opacity="0.5"/>
<polygon points="41.2,6.3 128.6,6.3 125.8,11.2 44,11.2" fill="url(#gGold)"/>
</g>
<path d="M417.8,910 V913.4 M428.6,910 V913.8 M458.2,910 V913.2 M469.5,910 V913" fill="none" stroke="#e07d3c" stroke-width="2.3" stroke-linejoin="miter"/>
<path d="M717,910 V914 M728.2,910 V914 M758,910 V914.6 M769.2,910 V914" fill="none" stroke="#e07d3c" stroke-width="2.3" stroke-linejoin="miter"/>
<path d="M417.6,963.5 V1116.5 M428.4,963.5 V1116.5 M458.4,963 V1007.5 M469.4,963 V1007.5" fill="none" stroke="#e07d3c" stroke-width="2.3" stroke-linejoin="miter"/>
<path d="M717,964.5 V1116.5 M728.2,964.5 V1116.5 M758,964 V1007.5 M769.2,964 V1007.5" fill="none" stroke="#e07d3c" stroke-width="2.3" stroke-linejoin="miter"/>
<ellipse cx="484.6" cy="1068.4" rx="6.2" ry="5.4" fill="#fff"/>
<ellipse cx="459.8" cy="1087.5" rx="6.2" ry="5.4" fill="#fff"/>
<ellipse cx="478.5" cy="1098.2" rx="6.2" ry="5.4" fill="#fff"/>
<ellipse cx="460.8" cy="1128.6" rx="6.2" ry="5.4" fill="#fff"/>
<ellipse cx="443.7" cy="1146" rx="6.2" ry="5.4" fill="#fff"/>
<text x="442.0" y="1222.3" font-size="38" text-anchor="middle" font-weight="normal" fill="#000" letter-spacing="0.8">Water</text>
<text x="1039.5" y="783.0" font-size="38" text-anchor="end" font-weight="normal" fill="#000" >Dry-air-flow</text>
<line x1="1041.0" y1="776.0" x2="1075.9" y2="776.0" stroke="#e07d3c" stroke-width="3.4"/>
<polygon points="1094.4,776.0 1075.4,785.2 1075.4,776.0 1075.4,766.8" fill="#e07d3c"/>
<text x="848.2" y="852.0" font-size="38" text-anchor="end" font-weight="normal" fill="#000" letter-spacing="0.15">Humidity-air-flow</text>
<line x1="861.4" y1="843.7" x2="914.3" y2="863.4" stroke="#e07d3c" stroke-width="3.4"/>
<polygon points="933.5,870.5 910.7,871.6 913.8,863.2 917.0,854.7" fill="#e07d3c"/>
<line x1="1104.0" y1="829.5" x2="1104.0" y2="846.0" stroke="#e07d3c" stroke-width="3.2"/>
<polygon points="1104.0,858.5 1094.0,838.5 1104.0,845.5 1114.0,838.5" fill="#e07d3c"/>
<line x1="947.0" y1="886.0" x2="965.5" y2="886.0" stroke="#e07d3c" stroke-width="3.2"/>
<polygon points="978.0,886.0 958.0,895.0 965.0,886.0 958.0,877.0" fill="#e07d3c"/>
<clipPath id="cpFan"><ellipse cx="1012.9" cy="981.4" rx="47" ry="116"/></clipPath>
<ellipse cx="1012.9" cy="981.4" rx="54" ry="126" fill="#000"/>
<g clip-path="url(#cpFan)"><polygon points="1012.9,976 946,804 1080,804" fill="#fff"/><polygon points="1012.9,987 946,1159 1080,1159" fill="#fff"/></g>
<path d="M969.5,873.5 C975,840 1040,834 1055.5,872" fill="none" stroke="#000" stroke-width="4.6"/>
<polygon points="1058.2,888.0 1046.2,875.1 1054.8,877.5 1060.5,870.5" fill="#000"/>
<path d="M1056.8,1096.3 C1050,1130 976,1130 966,1089" fill="none" stroke="#000" stroke-width="4.2"/>
<polygon points="963.8,1076.5 974.4,1089.2 966.6,1087.1 960.9,1092.8" fill="#000"/>
<line x1="903.0" y1="1076.5" x2="934.1" y2="1034.3" stroke="#000" stroke-width="5"/>
<polygon points="946.8,1017.0 941.4,1040.3 933.8,1034.7 926.1,1029.1" fill="#000"/>
<g transform="translate(1066.5,880.5) scale(1.1724,1.2750)">
<rect x="-2.5" y="-1" width="62.5" height="22.5" fill="#fafafa" stroke="#d8d8d8" stroke-width="0.8"/>
<polygon points="3.3,0.7 55.6,0.7 58.2,20 0,20" fill="#6b4db2"/>
<rect x="18.8" y="-0.4" width="23.2" height="18.8" fill="#3aa06f"/>
<polygon points="6,4.3 16,4.3 16,15.5 4.8,15.5" fill="#e3f04d"/>
<polygon points="43.3,4.3 52.6,4.3 53.4,15.5 43.3,15.5" fill="#e3f04d"/>
</g>
<text x="1127.0" y="861.3" font-size="38" text-anchor="start" font-weight="normal" fill="#000" >Sensor</text>
<path d="M1087.4,906.5 L1145,1191.4 H1437" fill="none" stroke="#000" stroke-width="2.5"/>
<path d="M1120.2,906.5 L1184.6,1121.4 H1257.3 V1015.7 H1636 V1191.4 H1470.5" fill="none" stroke="#000" stroke-width="2.5"/>
<line x1="1437.8" y1="1153" x2="1437.8" y2="1228.5" stroke="#000" stroke-width="7"/>
<line x1="1467.3" y1="1162.5" x2="1467.3" y2="1225" stroke="#000" stroke-width="7"/>
<text x="1421.0" y="1143.6" font-size="38" text-anchor="start" font-weight="normal" fill="#000" >Power</text>
<rect x="1255.3" y="737.4" width="409.9" height="228.8" rx="33" ry="33" fill="#f2f2f2" stroke="#000" stroke-width="3.6"/>
<rect x="1270.0" y="756.0" width="170.5" height="156.5" fill="#d3dbeb"/>
<rect x="1274.6" y="760.6" width="161.3" height="147.3" fill="#8fa9d7"/>
<rect x="1486.1" y="748.8" width="35.8" height="23.0" fill="#a6a6a6" stroke="#1f3864" stroke-width="4"/>
<rect x="1539.9" y="749.5" width="35.8" height="23.4" fill="#a6a6a6" stroke="#1f3864" stroke-width="4"/>
<rect x="1592.7" y="748.8" width="36.4" height="23.4" fill="#a6a6a6" stroke="#1f3864" stroke-width="4"/>
<rect x="1487.7" y="803.5" width="35.5" height="23.4" fill="#a6a6a6" stroke="#1f3864" stroke-width="4"/>
<rect x="1539.3" y="804.5" width="35.8" height="23.0" fill="#a6a6a6" stroke="#1f3864" stroke-width="4"/>
<rect x="1595.3" y="804.5" width="35.5" height="23.0" fill="#a6a6a6" stroke="#1f3864" stroke-width="4"/>
<rect x="1487.7" y="852.2" width="35.5" height="23.0" fill="#a6a6a6" stroke="#1f3864" stroke-width="4"/>
<rect x="1539.3" y="852.9" width="35.8" height="23.0" fill="#a6a6a6" stroke="#1f3864" stroke-width="4"/>
<rect x="1592.1" y="853.8" width="36.1" height="23.0" fill="#a6a6a6" stroke="#1f3864" stroke-width="4"/>
<circle cx="1467.6" cy="921.0" r="11.4" fill="#ee2722" stroke="#1f3864" stroke-width="5.0"/>
<circle cx="1546.0" cy="919.6" r="11.4" fill="#000" stroke="#1f3864" stroke-width="5.0"/>
<path d="M1288,880.6 H1321 V800.3 L1367.7,811.2 L1380,880 H1430" fill="none" stroke="#4a74c4" stroke-width="2"/>
<text x="1376.0" y="718.8" font-size="38" text-anchor="start" font-weight="normal" fill="#000" letter-spacing="0.3">Oscilloscope</text>
<path d="M1467.8,933 C1467,958 1458,972 1444,974.5 C1430,978 1424,1000 1421,1015" fill="none" stroke="#ee2722" stroke-width="2.2"/>
<path d="M1546,932 C1548,955 1556,971 1568,975 C1579,980 1584,1000 1585.6,1015" fill="none" stroke="#000" stroke-width="2.2"/>
<rect x="1460" y="995.6" width="90" height="37.6" fill="#d0d0d0" stroke="#1f3864" stroke-width="3.8"/>
<text x="1440.0" y="1069.8" font-size="38" text-anchor="start" font-weight="normal" fill="#000" >Resistor</text>
<text x="4.0" y="1289.0" font-size="48" text-anchor="start" font-weight="bold" fill="#000" >d</text>
<line x1="224.2" y1="1308.2" x2="224.2" y2="1784" stroke="#2a2a2a" stroke-width="1.7" stroke-dasharray="39 23.6"/>
<line x1="238.7" y1="1308.2" x2="238.7" y2="1784" stroke="#2a2a2a" stroke-width="1.7" stroke-dasharray="39 23.6"/>
<line x1="624.2" y1="1308.2" x2="624.2" y2="1784" stroke="#2a2a2a" stroke-width="1.7" stroke-dasharray="39 23.6"/>
<line x1="668.9" y1="1308.2" x2="668.9" y2="1784" stroke="#2a2a2a" stroke-width="1.7" stroke-dasharray="39 23.6"/>
<path d="M126.4,1752.5 L133.5,1752.5 L137.8,1758.8 L140.6,1758.8 L144.0,1753.1 L147.7,1758.8 L154.8,1765.0 L187.5,1765.0 L191.8,1768.7 L196.0,1768.7 L200.3,1774.4 L204.5,1773.0 L208.8,1778.6 L213.1,1774.4 L217.3,1780.1 L220.2,1782.9 L223.9,1784.3 L225.0,1761.6 L226.1,1721.8 L227.3,1665.0 L228.7,1602.5 L230.1,1545.7 L231.0,1515.7 L232.1,1464.5 L233.5,1420.5 L235.2,1393.5 L236.9,1376.5 L239.2,1362.3 L241.5,1350.3 L244.3,1344.1 L247.2,1342.4 L249.1,1331.6 L251.4,1327.6 L253.7,1334.4 L255.1,1340.1 L259.9,1340.1 L262.8,1335.6 L265.6,1332.7 L268.8,1331.0 L271.3,1327.6 L274.1,1332.7 L277.0,1333.9 L291.2,1333.9 L294.0,1339.5 L296.9,1344.4 L300.0,1339.0 L302.6,1334.4 L308.2,1334.4 L312.5,1338.7 L315.3,1333.6 L339.5,1333.6 L342.3,1338.7 L345.2,1333.6 L349.4,1333.6 L353.7,1338.7 L358.0,1333.6 L362.2,1333.6 L366.5,1338.7 L369.3,1334.7 L372.2,1344.1 L376.4,1338.4 L380.7,1344.1 L384.9,1335.6 L389.2,1339.8 L393.5,1334.7 L397.7,1339.8 L400.6,1334.7 L406.2,1334.7 L410.5,1338.4 L417.6,1344.1 L420.5,1339.8 L424.7,1344.1 L429.0,1338.4 L438.9,1338.4 L443.2,1334.7 L447.4,1338.4 L455.5,1338.1 L459.8,1345.2 L462.6,1339.5 L475.4,1339.5 L478.2,1345.2 L481.1,1338.1 L495.3,1338.1 L498.1,1333.3 L501.0,1338.1 L505.2,1345.2 L509.5,1334.4 L513.8,1344.7 L518.0,1338.1 L522.3,1344.7 L528.0,1333.3 L532.2,1338.1 L536.5,1345.2 L540.7,1338.1 L545.0,1333.3 L549.3,1338.1 L553.5,1344.7 L557.8,1341.0 L562.0,1344.7 L566.3,1338.1 L569.1,1344.7 L593.3,1344.7 L597.6,1338.1 L600.4,1344.7 L604.7,1338.1 L608.9,1344.7 L620.6,1344.7 L622.6,1353.8 L624.5,1373.6 L626.5,1402.0 L628.5,1436.1 L630.5,1475.9 L632.5,1548.5 L634.8,1576.9 L637.0,1605.3 L639.6,1630.9 L642.4,1653.6 L645.9,1676.4 L649.5,1696.2 L653.5,1711.9 L658.1,1724.7 L662.9,1737.4 L667.7,1748.8 L672.8,1756.5 L677.1,1761.0 L681.4,1764.4 L685.6,1764.4 L688.5,1770.7 L691.3,1764.4 L705.5,1764.4 L709.8,1770.7 L714.0,1764.4 L718.3,1770.7 L726.8,1770.7 L731.1,1764.4 L733.9,1767.3 L738.2,1761.6 L758.1,1761.6 L760.9,1764.4 L765.2,1761.6 L768.0,1770.7 L772.3,1777.2 L775.1,1768.7 L797.8,1768.7 L802.1,1774.4 L817.7,1774.4 L822.0,1768.7 L824.8,1774.4 L829.1,1770.1 L833.4,1774.4 L837.6,1770.1 L842.0,1775.8" fill="none" stroke="#000" stroke-width="4.5" stroke-linejoin="round" stroke-linecap="butt" />
<rect x="126.2" y="1309.7" width="681" height="475" fill="none" stroke="#ee2722" stroke-width="3.7" stroke-dasharray="11 9.6"/>
<line x1="172.7" y1="1785.3" x2="172.7" y2="1774.8" stroke="#262626" stroke-width="5.3"/>
<line x1="172.7" y1="1282.0" x2="172.7" y2="1292.5" stroke="#262626" stroke-width="5.3"/>
<line x1="332.4" y1="1785.3" x2="332.4" y2="1774.8" stroke="#262626" stroke-width="5.3"/>
<line x1="332.4" y1="1282.0" x2="332.4" y2="1292.5" stroke="#262626" stroke-width="5.3"/>
<line x1="492.1" y1="1785.3" x2="492.1" y2="1774.8" stroke="#262626" stroke-width="5.3"/>
<line x1="492.1" y1="1282.0" x2="492.1" y2="1292.5" stroke="#262626" stroke-width="5.3"/>
<line x1="651.8" y1="1785.3" x2="651.8" y2="1774.8" stroke="#262626" stroke-width="5.3"/>
<line x1="651.8" y1="1282.0" x2="651.8" y2="1292.5" stroke="#262626" stroke-width="5.3"/>
<line x1="811.5" y1="1785.3" x2="811.5" y2="1774.8" stroke="#262626" stroke-width="5.3"/>
<line x1="811.5" y1="1282.0" x2="811.5" y2="1292.5" stroke="#262626" stroke-width="5.3"/>
<line x1="125.2" y1="1693.9" x2="135.7" y2="1693.9" stroke="#262626" stroke-width="5.3"/>
<line x1="843.0" y1="1693.9" x2="832.5" y2="1693.9" stroke="#262626" stroke-width="5.3"/>
<line x1="125.2" y1="1602.5" x2="135.7" y2="1602.5" stroke="#262626" stroke-width="5.3"/>
<line x1="843.0" y1="1602.5" x2="832.5" y2="1602.5" stroke="#262626" stroke-width="5.3"/>
<line x1="125.2" y1="1511.0" x2="135.7" y2="1511.0" stroke="#262626" stroke-width="5.3"/>
<line x1="843.0" y1="1511.0" x2="832.5" y2="1511.0" stroke="#262626" stroke-width="5.3"/>
<line x1="125.2" y1="1419.6" x2="135.7" y2="1419.6" stroke="#262626" stroke-width="5.3"/>
<line x1="843.0" y1="1419.6" x2="832.5" y2="1419.6" stroke="#262626" stroke-width="5.3"/>
<line x1="125.2" y1="1328.2" x2="135.7" y2="1328.2" stroke="#262626" stroke-width="5.3"/>
<line x1="843.0" y1="1328.2" x2="832.5" y2="1328.2" stroke="#262626" stroke-width="5.3"/>
<rect x="125.2" y="1282.0" width="717.8" height="503.3" fill="none" stroke="#262626" stroke-width="6.2"/>
<line x1="127" y1="1785.3" x2="808" y2="1785.3" stroke="#ee2722" stroke-width="3.7" stroke-dasharray="11 9.6"/>
<line x1="126.2" y1="1310" x2="126.2" y2="1785" stroke="#ee2722" stroke-width="3.7" stroke-dasharray="11 9.6"/>
<text transform="translate(108.0,1782.7) scale(0.9,1)" font-size="40" text-anchor="end" fill="#333333" >0</text>
<text transform="translate(108.0,1691.3) scale(0.9,1)" font-size="40" text-anchor="end" fill="#333333" >0.2</text>
<text transform="translate(108.0,1599.9) scale(0.9,1)" font-size="40" text-anchor="end" fill="#333333" >0.4</text>
<text transform="translate(108.0,1508.4) scale(0.9,1)" font-size="40" text-anchor="end" fill="#333333" >0.6</text>
<text transform="translate(108.0,1417.0) scale(0.9,1)" font-size="40" text-anchor="end" fill="#333333" >0.8</text>
<text transform="translate(108.0,1325.6) scale(0.9,1)" font-size="40" text-anchor="end" fill="#333333" >1</text>
<text transform="translate(170.7,1817.5) scale(0.9,1)" font-size="40" text-anchor="middle" fill="#333333" >50</text>
<text transform="translate(330.4,1817.5) scale(0.9,1)" font-size="40" text-anchor="middle" fill="#333333" >100</text>
<text transform="translate(490.1,1817.5) scale(0.9,1)" font-size="40" text-anchor="middle" fill="#333333" >150</text>
<text transform="translate(649.8,1817.5) scale(0.9,1)" font-size="40" text-anchor="middle" fill="#333333" >200</text>
<text transform="translate(809.5,1817.5) scale(0.9,1)" font-size="40" text-anchor="middle" fill="#333333" >250</text>
<text transform="translate(166.5,1697.5) scale(0.92,1)" font-size="38" fill="#1a1a1a">t<tspan font-size="23.5" dy="8.5">1</tspan></text>
<text transform="translate(293.0,1417.5) scale(0.92,1)" font-size="38" fill="#1a1a1a">t<tspan font-size="23.5" dy="8.5">2</tspan></text>
<text transform="translate(566.5,1430.5) scale(0.92,1)" font-size="38" fill="#1a1a1a">t<tspan font-size="23.5" dy="8.5">3</tspan></text>
<text transform="translate(724.5,1716.0) scale(0.92,1)" font-size="38" fill="#1a1a1a">t<tspan font-size="23.5" dy="8.5">4</tspan></text>
<path d="M181,1710.5 C186,1724 198,1733 214,1735" fill="none" stroke="#000" stroke-width="2.3"/>
<polygon points="222.5,1736.5 209.5,1739.4 210.1,1734.7 210.8,1730.0" fill="#000"/>
<path d="M288.5,1392 C279,1381 266,1374 250,1373" fill="none" stroke="#000" stroke-width="2.3"/>
<polygon points="241.5,1373.5 253.9,1368.4 254.0,1373.2 254.1,1377.9" fill="#000"/>
<path d="M584,1410.6 C587,1395 598,1381 614,1374" fill="none" stroke="#000" stroke-width="2.3"/>
<polygon points="621.5,1371.5 612.3,1381.2 610.2,1376.9 608.2,1372.7" fill="#000"/>
<path d="M716.3,1720.4 C709,1734 696,1742 681,1744.5" fill="none" stroke="#000" stroke-width="2.3"/>
<polygon points="672.5,1746.0 684.2,1739.5 684.9,1744.2 685.5,1748.9" fill="#000"/>
<text x="268.5" y="1493.0" font-size="34.5" text-anchor="start" font-weight="normal" fill="#1a1a1a" letter-spacing="0.4">2.76 ms</text>
<text x="486.5" y="1666.5" font-size="34.5" text-anchor="start" font-weight="normal" fill="#1a1a1a" >12.4 ms</text>
<line x1="187.0" y1="1458.0" x2="210.8" y2="1458.0" stroke="#000" stroke-width="2.3"/>
<polygon points="222.8,1458.0 210.3,1462.8 210.3,1458.0 210.3,1453.2" fill="#000"/>
<line x1="275.0" y1="1458.0" x2="252.2" y2="1458.0" stroke="#000" stroke-width="2.3"/>
<polygon points="240.2,1458.0 252.7,1453.2 252.7,1458.0 252.7,1462.8" fill="#000"/>
<line x1="586.0" y1="1634.3" x2="610.6" y2="1634.3" stroke="#000" stroke-width="2.3"/>
<polygon points="622.6,1634.3 610.1,1639.0 610.1,1634.3 610.1,1629.5" fill="#000"/>
<line x1="705.5" y1="1634.3" x2="682.4" y2="1634.3" stroke="#000" stroke-width="2.3"/>
<polygon points="670.4,1634.3 682.9,1629.5 682.9,1634.3 682.9,1639.0" fill="#000"/>
<path d="M125.5,2343.3 L126.4,2341.5 L127.3,2343.0 L128.2,2341.7 L129.1,2341.8 L130.0,2345.8 L130.9,2346.4 L131.8,2341.1 L132.7,2345.3 L133.6,2345.7 L134.5,2340.9 L135.4,2344.7 L136.3,2342.5 L137.2,2345.1 L138.1,2344.3 L139.0,2347.9 L139.9,2344.9 L140.8,2343.6 L141.7,2346.1 L142.6,2344.9 L143.5,2345.7 L144.4,2350.0 L145.3,2345.6 L146.2,2347.0 L147.1,2349.2 L148.0,2351.3 L148.9,2345.9 L149.8,2348.8 L150.7,2347.4 L151.6,2346.6 L152.5,2348.0 L156.0,2352.9 L159.0,2355.0 L162.0,2357.1 L164.0,2363.5 L166.5,2370.6 L168.3,2376.1 L168.8,2376.1 L169.5,2275.7 L170.1,2155.2 L170.8,2062.8 L171.6,2014.6 L172.6,1990.5 L173.8,1978.4 L175.3,1974.4 L176.5,1974.4 L178.0,1980.7 L178.5,1981.8 L179.3,1985.2 L180.2,1982.7 L181.0,1984.9 L181.9,1993.0 L182.7,1993.1 L183.6,1993.1 L184.4,1987.0 L185.3,1986.5 L186.1,1981.8 L187.0,1985.2 L187.8,1984.0 L188.7,1986.1 L189.5,1984.8 L190.4,1985.6 L191.2,1985.9 L192.1,1984.4 L192.9,1984.5 L193.8,1982.5 L194.6,1983.9 L195.5,1993.5 L196.3,1993.5 L197.2,1993.6 L198.0,1984.1 L198.9,1987.3 L199.7,1983.0 L200.6,1982.3 L201.4,1982.8 L202.3,1984.9 L203.1,1984.0 L204.0,1987.2 L204.8,1993.0 L205.7,1993.0 L206.5,1993.1 L207.4,1988.3 L208.2,1983.3 L209.1,1982.5 L209.9,1988.2 L210.8,1983.7 L211.6,1986.2 L212.5,1987.9 L213.3,1987.0 L214.2,1984.1 L215.0,1983.4 L215.9,1988.7 L216.7,1985.1 L217.6,1988.8 L218.4,1984.5 L219.3,1987.0 L220.1,1983.6 L221.0,1983.0 L221.8,1986.0 L222.7,1982.9 L223.5,1987.3 L224.4,1988.8 L225.2,1985.5 L226.1,1989.1 L226.9,1988.1 L227.8,1986.8 L228.6,1985.6 L229.5,1988.5 L230.3,1989.2 L231.2,1984.0 L232.0,1987.6 L232.9,1983.5 L233.7,1984.0 L234.6,1987.3 L235.4,1986.8 L236.3,1986.4 L237.1,1985.7 L238.0,1986.0 L238.8,1986.3 L239.7,1985.9 L240.5,1983.9 L241.4,1986.7 L242.2,1987.2 L243.1,1985.4 L243.9,1988.5 L244.8,1988.1 L245.6,1983.9 L246.5,1986.8 L247.3,1986.6 L248.2,1990.1 L249.0,1987.5 L249.8,1987.9 L251.0,2006.4 L251.8,2054.7 L252.5,2121.6 L253.2,2188.4 L254.0,2240.4 L255.0,2277.5 L256.3,2307.3 L257.8,2327.7 L259.8,2340.7 L262.3,2350.0 L264.8,2355.5 L266.8,2359.2 L267.0,2358.8 L267.9,2362.3 L268.8,2359.0 L269.7,2359.1 L270.6,2362.7 L271.5,2359.6 L272.4,2360.7 L273.3,2359.7 L274.2,2361.8 L275.1,2360.0 L276.0,2360.0 L276.9,2364.4 L277.8,2364.4 L278.7,2361.0 L279.6,2359.5 L280.5,2363.9 L281.4,2362.9 L282.3,2362.3 L283.2,2364.2 L284.1,2364.1 L285.0,2364.6 L285.9,2364.5 L286.8,2363.4 L287.7,2365.3 L288.6,2365.1 L289.5,2363.0 L290.0,2371.6 L290.9,2366.7 L291.8,2365.2 L292.7,2369.3 L293.6,2370.2 L294.5,2364.9 L295.4,2370.2 L296.3,2370.7 L297.2,2368.5 L298.1,2366.2 L299.0,2371.8 L299.9,2369.8 L300.8,2369.8 L301.7,2365.3 L302.6,2369.0 L303.5,2365.2 L304.4,2371.7 L305.3,2370.2 L306.2,2367.4 L307.1,2365.3 L308.0,2369.4 L308.9,2371.6 L309.8,2372.7 L310.7,2369.0 L311.6,2372.2 L312.5,2366.6 L313.4,2366.4 L314.3,2372.5 L315.2,2371.7 L316.1,2366.9 L317.0,2368.5 L317.9,2367.1 L318.8,2371.4 L319.7,2373.5 L320.6,2372.1 L321.5,2367.5 L322.4,2372.5 L323.3,2371.9 L324.2,2371.3 L327.5,2374.0 L330.0,2381.1 L330.6,2381.1 L331.3,2283.1 L331.9,2165.5 L332.6,2075.4 L333.4,2028.3 L334.4,2004.8 L335.6,1993.0 L337.1,1989.1 L338.0,1990.9 L338.9,1991.0 L339.7,1987.8 L340.6,1992.7 L341.4,1993.7 L342.3,1987.8 L343.1,1988.2 L344.0,1987.6 L344.8,1991.1 L345.7,1987.9 L346.5,1988.1 L347.4,1992.6 L348.2,1989.4 L349.1,1988.8 L349.9,1990.0 L350.8,1990.9 L351.6,1992.4 L352.5,1992.1 L353.3,1992.9 L354.2,1993.9 L355.0,1990.7 L355.9,1992.6 L356.7,1989.4 L357.6,1994.3 L358.4,1988.9 L359.3,1990.2 L360.1,1988.8 L361.0,1989.1 L361.8,1989.1 L362.7,1991.2 L363.5,2000.1 L364.4,2000.1 L365.2,2000.2 L366.1,1993.1 L366.9,1990.8 L367.8,1991.7 L368.6,1992.5 L369.5,1989.2 L370.3,1991.3 L371.2,1993.1 L372.0,1993.7 L372.9,1989.9 L373.7,1992.4 L374.6,1990.5 L375.4,1993.2 L376.3,1994.2 L377.1,1992.2 L378.0,1990.4 L378.8,1994.5 L379.7,1990.7 L380.5,1989.9 L381.4,1990.7 L382.2,1990.6 L383.1,1995.8 L383.9,1991.9 L384.8,1990.5 L385.6,1995.7 L386.5,1994.3 L387.3,1994.4 L388.2,1992.8 L389.0,1993.5 L389.9,1993.2 L390.7,1991.3 L391.6,1996.3 L392.4,1996.0 L393.3,1995.6 L394.1,1995.6 L395.0,1996.0 L395.8,1990.3 L396.7,1991.1 L397.5,1996.0 L398.4,1993.5 L399.2,1994.7 L400.1,1994.7 L400.9,2006.2 L401.8,2006.3 L402.6,2006.3 L403.5,1994.6 L404.3,1995.7 L405.2,1994.9 L406.0,1996.2 L406.9,1993.6 L407.7,1992.6 L408.6,1994.7 L409.4,1996.7 L410.3,1996.1 L411.1,1994.9 L412.0,1993.5 L412.8,1995.4 L414.0,2014.5 L414.8,2063.9 L415.5,2132.5 L416.2,2201.0 L417.0,2254.3 L418.0,2292.3 L419.3,2322.8 L420.8,2343.7 L422.8,2357.0 L425.3,2366.6 L427.8,2372.3 L429.8,2376.1 L431.0,2369.8 L434.0,2363.5 L437.0,2359.2 L438.0,2356.6 L438.9,2358.6 L439.8,2356.5 L440.7,2357.4 L441.6,2358.3 L442.5,2358.6 L443.4,2358.0 L444.3,2357.0 L445.2,2358.4 L446.1,2357.0 L447.0,2358.2 L447.9,2359.3 L448.0,2359.0 L448.9,2358.5 L449.8,2363.2 L450.7,2361.4 L451.6,2361.9 L452.5,2359.4 L453.4,2359.6 L454.3,2363.9 L455.2,2361.0 L456.1,2362.2 L457.0,2366.3 L457.9,2365.5 L458.8,2368.4 L459.7,2364.3 L460.6,2365.8 L461.5,2364.9 L462.4,2366.0 L463.3,2367.4 L464.2,2367.5 L465.1,2369.2 L466.0,2372.9 L466.9,2370.2 L467.8,2374.6 L468.7,2374.2 L469.6,2370.6 L470.5,2376.0 L471.4,2376.2 L472.3,2376.7 L473.2,2372.0 L474.1,2377.3 L475.0,2378.9 L475.9,2373.9 L476.8,2379.3 L477.7,2375.0 L478.6,2376.7 L479.5,2376.2 L480.4,2375.9 L481.3,2379.0 L482.2,2378.1 L483.1,2383.7 L484.0,2379.4 L484.9,2381.6 L485.8,2380.8 L486.0,2386.0 L486.9,2383.0 L487.8,2382.3 L488.7,2386.9 L489.6,2385.8 L490.5,2384.8 L491.4,2383.6 L492.3,2386.8 L493.2,2387.3 L494.2,2385.7 L494.9,2289.5 L495.5,2174.1 L496.2,2085.6 L497.0,2039.4 L498.0,2016.3 L499.2,2004.7 L500.7,2000.9 L501.5,2002.1 L502.4,1999.8 L503.2,1999.0 L504.1,2001.3 L504.9,2001.5 L505.8,2001.4 L506.6,2001.7 L507.5,2001.4 L508.3,2003.5 L509.2,2001.0 L510.0,1998.0 L510.9,2001.6 L511.7,1999.6 L512.6,2003.3 L513.4,2000.0 L514.3,1999.7 L515.1,2000.2 L516.0,2001.3 L516.8,2001.5 L517.7,2000.6 L518.5,1999.0 L519.4,2003.8 L520.2,2004.2 L521.1,2000.2 L521.9,1999.1 L522.8,2001.7 L523.6,2002.2 L524.5,2000.6 L525.3,2004.0 L526.2,2003.5 L527.0,2004.0 L527.9,2001.6 L528.7,2003.4 L529.6,2003.9 L530.4,2001.1 L531.3,1999.5 L532.1,2003.7 L533.0,2015.1 L533.8,2015.1 L534.7,2015.2 L535.5,2002.1 L536.4,2004.2 L537.2,2004.5 L538.1,2005.8 L538.9,2003.0 L539.8,2003.6 L540.6,2005.0 L541.5,2003.9 L542.3,2004.2 L543.2,2001.4 L544.0,2005.4 L544.9,2000.1 L545.7,2003.4 L546.6,2002.7 L547.4,2003.6 L548.3,2001.3 L549.1,2001.5 L550.0,2003.2 L550.8,2003.7 L551.7,2002.3 L552.5,2001.5 L553.4,2004.4 L554.2,2002.3 L555.1,2001.0 L555.9,2004.1 L556.8,2005.7 L557.6,2005.7 L558.5,2002.7 L559.3,2003.0 L560.2,2001.3 L561.0,2002.0 L561.9,2005.9 L562.7,2006.3 L563.6,2005.9 L564.4,2006.4 L565.3,2003.2 L566.1,2002.3 L567.0,2002.1 L567.8,2006.2 L568.7,2002.4 L569.5,2006.0 L570.4,2005.3 L571.2,2003.5 L572.1,2007.6 L572.9,2007.6 L573.8,2002.9 L574.8,2005.9 L576.0,2024.6 L576.8,2072.9 L577.5,2139.9 L578.2,2206.9 L579.0,2259.1 L580.0,2296.3 L581.3,2326.1 L582.8,2346.5 L584.8,2359.6 L587.3,2368.9 L589.8,2374.5 L591.8,2378.2 L593.0,2376.7 L593.9,2376.1 L594.8,2374.0 L595.7,2373.1 L596.6,2379.3 L597.5,2376.3 L598.4,2375.3 L599.3,2374.8 L600.2,2377.4 L601.1,2373.9 L602.0,2370.4 L602.9,2375.6 L603.8,2374.2 L604.7,2378.1 L605.6,2376.7 L606.5,2373.0 L607.4,2378.1 L608.3,2371.0 L609.2,2370.7 L610.1,2378.2 L611.0,2370.4 L611.9,2375.6 L612.8,2371.9 L613.7,2372.1 L614.6,2376.3 L615.5,2372.8 L616.4,2373.0 L617.3,2371.5 L618.2,2376.5 L619.1,2372.0 L620.0,2370.1 L620.9,2372.7 L621.8,2374.0 L622.7,2377.9 L623.6,2374.3 L624.5,2375.6 L625.4,2372.2 L626.3,2372.6 L627.2,2373.6 L628.1,2377.1 L629.0,2372.8 L629.9,2372.9 L630.8,2377.1 L631.7,2370.5 L632.6,2372.7 L633.5,2377.6 L634.4,2370.1 L635.3,2377.4 L636.2,2375.6 L637.1,2372.0 L638.0,2373.1 L638.9,2373.5 L639.8,2372.6 L640.0,2378.5 L640.9,2379.8 L641.8,2381.1 L642.7,2382.1 L643.6,2378.1 L644.5,2378.2 L645.4,2380.0 L646.3,2379.0 L647.2,2382.0 L648.1,2382.9 L649.0,2382.5 L649.9,2379.6 L650.8,2385.5 L651.7,2382.8 L652.6,2384.8 L653.5,2381.7 L654.4,2384.8 L655.3,2385.3 L657.3,2385.7 L658.0,2291.8 L658.6,2179.2 L659.3,2092.8 L660.1,2047.7 L661.1,2025.2 L662.3,2013.9 L663.8,2010.2 L664.5,2011.2 L665.4,2010.4 L666.2,2009.0 L667.1,2011.7 L667.9,2008.6 L668.8,2013.3 L669.6,2012.3 L670.5,2013.5 L671.3,2013.4 L672.2,2009.3 L673.0,2009.7 L673.9,2013.1 L674.7,2013.2 L675.6,2011.8 L676.4,2009.8 L677.3,2009.4 L678.1,2009.9 L679.0,2010.9 L679.8,2013.8 L680.7,2012.2 L681.5,2013.6 L682.4,2011.5 L683.2,2011.3 L684.1,2013.7 L684.9,2022.4 L685.8,2022.4 L686.6,2022.5 L687.5,2010.1 L688.3,2009.6 L689.2,2009.3 L690.0,2012.9 L690.9,2011.9 L691.7,2011.8 L692.6,2011.5 L693.4,2009.4 L694.3,2011.3 L695.1,2013.8 L696.0,2010.3 L696.8,2012.7 L697.7,2012.0 L698.5,2011.3 L699.4,2015.9 L700.2,2011.1 L701.1,2011.9 L701.9,2013.0 L702.8,2012.8 L703.6,2013.3 L704.5,2015.0 L705.3,2013.0 L706.2,2016.1 L707.0,2013.2 L707.9,2012.4 L708.7,2013.7 L709.6,2013.0 L710.4,2010.6 L711.3,2011.0 L712.1,2015.9 L713.0,2011.8 L713.8,2012.9 L714.7,2016.6 L715.5,2014.7 L716.4,2015.5 L717.2,2016.6 L718.1,2013.7 L718.9,2011.3 L719.8,2015.2 L720.6,2011.8 L721.5,2012.9 L722.3,2016.5 L723.2,2012.0 L724.0,2013.7 L724.9,2011.7 L725.7,2013.1 L726.6,2013.0 L727.4,2015.5 L728.3,2012.6 L729.1,2011.9 L730.0,2012.4 L730.8,2015.1 L731.7,2013.2 L732.5,2014.9 L733.4,2017.4 L734.2,2017.8 L735.1,2017.7 L735.9,2017.0 L736.8,2017.3 L737.6,2015.2 L738.5,2014.4 L739.7,2033.4 L740.5,2082.9 L741.2,2151.4 L741.9,2219.9 L742.7,2273.2 L743.7,2311.3 L745.0,2341.7 L746.5,2362.6 L748.5,2376.0 L751.0,2385.5 L753.5,2391.2 L755.5,2394.5 L756.5,2392.3 L757.4,2392.6 L758.3,2392.6 L759.2,2390.9 L760.1,2392.1 L761.0,2390.7 L761.9,2388.7 L762.0,2388.9 L762.9,2389.8 L763.8,2384.3 L764.7,2384.8 L765.6,2386.5 L766.5,2385.8 L767.4,2384.1 L768.3,2383.0 L769.2,2384.8 L770.0,2387.0 L770.9,2386.0 L771.8,2382.3 L772.7,2387.7 L773.6,2385.9 L774.5,2388.6 L775.4,2389.1 L776.3,2390.0 L777.2,2388.8 L778.1,2391.2 L779.0,2392.9 L779.9,2392.8 L780.5,2394.5" fill="none" stroke="#000" stroke-width="4.5" stroke-linejoin="round" stroke-linecap="butt" />
<path d="M147.7,2391 V1924.9 H286.5 V2391 Z" fill="none" stroke="#ee2722" stroke-width="2.2" stroke-dasharray="38 24.6"/>
<line x1="128.4" y1="1790" x2="148" y2="1925" stroke="#ee2722" stroke-width="2.2" stroke-dasharray="38 24.6"/>
<line x1="286.5" y1="1925" x2="813.5" y2="1790" stroke="#ee2722" stroke-width="2.2" stroke-dasharray="38 26.5"/>
<line x1="288.6" y1="2395.0" x2="288.6" y2="2384.5" stroke="#262626" stroke-width="5.3"/>
<line x1="288.6" y1="1889.8" x2="288.6" y2="1900.3" stroke="#262626" stroke-width="5.3"/>
<line x1="451.9" y1="2395.0" x2="451.9" y2="2384.5" stroke="#262626" stroke-width="5.3"/>
<line x1="451.9" y1="1889.8" x2="451.9" y2="1900.3" stroke="#262626" stroke-width="5.3"/>
<line x1="615.2" y1="2395.0" x2="615.2" y2="2384.5" stroke="#262626" stroke-width="5.3"/>
<line x1="615.2" y1="1889.8" x2="615.2" y2="1900.3" stroke="#262626" stroke-width="5.3"/>
<line x1="778.5" y1="2395.0" x2="778.5" y2="2384.5" stroke="#262626" stroke-width="5.3"/>
<line x1="778.5" y1="1889.8" x2="778.5" y2="1900.3" stroke="#262626" stroke-width="5.3"/>
<line x1="125.2" y1="2310.9" x2="135.7" y2="2310.9" stroke="#262626" stroke-width="5.3"/>
<line x1="843.0" y1="2310.9" x2="832.5" y2="2310.9" stroke="#262626" stroke-width="5.3"/>
<line x1="125.2" y1="2226.8" x2="135.7" y2="2226.8" stroke="#262626" stroke-width="5.3"/>
<line x1="843.0" y1="2226.8" x2="832.5" y2="2226.8" stroke="#262626" stroke-width="5.3"/>
<line x1="125.2" y1="2142.6" x2="135.7" y2="2142.6" stroke="#262626" stroke-width="5.3"/>
<line x1="843.0" y1="2142.6" x2="832.5" y2="2142.6" stroke="#262626" stroke-width="5.3"/>
<line x1="125.2" y1="2058.5" x2="135.7" y2="2058.5" stroke="#262626" stroke-width="5.3"/>
<line x1="843.0" y1="2058.5" x2="832.5" y2="2058.5" stroke="#262626" stroke-width="5.3"/>
<line x1="125.2" y1="1974.4" x2="135.7" y2="1974.4" stroke="#262626" stroke-width="5.3"/>
<line x1="843.0" y1="1974.4" x2="832.5" y2="1974.4" stroke="#262626" stroke-width="5.3"/>
<rect x="125.2" y="1889.8" width="717.8" height="505.2" fill="none" stroke="#262626" stroke-width="6.2"/>
<text transform="translate(111.5,2394.5) scale(0.9,1)" font-size="40" text-anchor="end" fill="#333333" >0</text>
<text transform="translate(108.0,2310.4) scale(0.9,1)" font-size="40" text-anchor="end" fill="#333333" >0.2</text>
<text transform="translate(108.0,2226.3) scale(0.9,1)" font-size="40" text-anchor="end" fill="#333333" >0.4</text>
<text transform="translate(108.0,2142.1) scale(0.9,1)" font-size="40" text-anchor="end" fill="#333333" >0.6</text>
<text transform="translate(108.0,2058.0) scale(0.9,1)" font-size="40" text-anchor="end" fill="#333333" >0.8</text>
<text transform="translate(108.0,1973.9) scale(0.9,1)" font-size="40" text-anchor="end" fill="#333333" >1</text>
<text transform="translate(123.8,2433.0) scale(0.9,1)" font-size="40" text-anchor="middle" fill="#333333" >0</text>
<text transform="translate(283.1,2433.0) scale(0.9,1)" font-size="40" text-anchor="middle" fill="#333333" >250</text>
<text transform="translate(446.4,2433.0) scale(0.9,1)" font-size="40" text-anchor="middle" fill="#333333" >500</text>
<text transform="translate(609.7,2433.0) scale(0.9,1)" font-size="40" text-anchor="middle" fill="#333333" >750</text>
<text transform="translate(773.0,2433.0) scale(0.9,1)" font-size="40" text-anchor="middle" fill="#333333" >1000</text>
<text transform="translate(748.7,1936.8) scale(0.94,1)" font-size="30" text-anchor="middle" fill="#1a1a1a" >4 Hz</text>
<text x="461.5" y="2487.6" font-size="43.5" text-anchor="middle" font-weight="normal" fill="#333333" letter-spacing="2.0">Time (ms)</text>
<text transform="translate(35.0,1787.6) rotate(-90) scale(0.945,1)" font-size="45.5" text-anchor="middle" fill="#333333" letter-spacing="1.3">Normalized response (a.u.)</text>
<text x="870.5" y="1289.0" font-size="48" text-anchor="start" font-weight="bold" fill="#000" >e</text>
<path d="M978.9,1626.4 L980.7,1664.1 L983.6,1708.1 L983.9,1710.2 L984.7,1710.2 L985.8,1680.0 L988.0,1601.3 L990.7,1532.1 L993.6,1475.6 L996.6,1429.5 L998.5,1408.6 L1001.4,1408.6 L1002.4,1391.8 L1004.1,1391.8 L1005.4,1375.1 L1009.9,1375.1 L1012.8,1358.3 L1013.8,1358.3 L1016.4,1375.1 L1018.7,1375.1 L1020.7,1408.6 L1025.9,1442.1 L1028.8,1473.1 L1032.4,1513.3 L1034.3,1525.9 L1036.3,1560.6 L1037.9,1592.9 L1040.9,1609.6 L1042.8,1651.5 L1045.1,1668.3 L1047.7,1710.2 L1049.4,1710.2 L1050.2,1710.2 L1051.3,1680.0 L1053.5,1601.3 L1056.2,1532.1 L1059.1,1475.6 L1062.1,1429.5 L1064.0,1408.6 L1067.0,1408.6 L1067.9,1398.1 L1069.6,1398.1 L1070.9,1375.1 L1075.4,1375.1 L1078.4,1358.3 L1079.3,1358.3 L1081.9,1375.1 L1084.2,1375.1 L1086.2,1408.6 L1091.4,1438.4 L1094.3,1465.9 L1097.9,1501.7 L1099.9,1512.8 L1101.8,1543.7 L1103.5,1572.4 L1106.4,1587.3 L1108.3,1624.5 L1110.6,1639.4 L1113.2,1676.7 L1114.9,1676.7 L1115.7,1676.7 L1116.8,1649.9 L1119.0,1579.9 L1121.7,1518.4 L1124.7,1468.1 L1127.6,1427.2 L1129.5,1408.6 L1132.5,1408.6 L1133.5,1391.8 L1135.1,1391.8 L1136.4,1375.1 L1141.9,1375.1 L1144.5,1358.3 L1148.4,1358.3 L1150.4,1383.4 L1149.7,1375.1 L1151.7,1408.6 L1156.9,1443.9 L1159.8,1476.7 L1163.4,1519.1 L1165.4,1532.4 L1167.3,1569.1 L1169.0,1603.1 L1171.9,1620.8 L1173.9,1665.0 L1176.1,1682.7 L1178.7,1726.9 L1180.4,1726.9 L1181.3,1726.9 L1182.4,1695.1 L1184.5,1612.0 L1187.2,1539.0 L1190.2,1479.3 L1193.1,1430.7 L1195.1,1408.6 L1198.0,1408.6 L1199.0,1398.1 L1200.6,1398.1 L1201.9,1375.1 L1215.3,1375.1 L1217.2,1408.6 L1222.4,1442.1 L1225.4,1473.1 L1229.0,1513.3 L1230.9,1525.9 L1232.9,1560.6 L1234.5,1592.9 L1237.4,1609.6 L1239.4,1651.5 L1241.7,1668.3 L1244.3,1710.2 L1245.9,1710.2 L1246.8,1710.2 L1247.9,1680.0 L1250.0,1601.3 L1252.8,1532.1 L1255.7,1475.6 L1258.6,1429.5 L1260.6,1408.6 L1263.5,1408.6 L1264.5,1391.8 L1266.1,1391.8 L1267.4,1375.1 L1272.0,1375.1 L1274.9,1358.3 L1275.9,1358.3 L1278.5,1375.1 L1280.8,1375.1 L1282.7,1408.6 L1288.0,1438.4 L1290.9,1465.9 L1294.5,1501.7 L1296.4,1512.8 L1298.4,1543.7 L1300.0,1572.4 L1302.9,1587.3 L1304.9,1624.5 L1307.2,1639.4 L1309.8,1676.7 L1311.4,1676.7 L1312.3,1676.7 L1313.4,1649.9 L1315.5,1579.9 L1318.3,1518.4 L1321.2,1468.1 L1324.1,1427.2 L1326.1,1408.6 L1329.0,1408.6 L1330.0,1398.1 L1331.6,1398.1 L1332.9,1375.1 L1346.3,1375.1 L1348.3,1408.6 L1353.5,1449.5 L1356.4,1487.4 L1360.0,1536.6 L1361.9,1551.9 L1363.9,1594.4 L1365.5,1633.8 L1368.5,1654.3 L1370.4,1705.5 L1372.7,1726.0 L1375.3,1777.2 L1377.0,1777.2 L1377.8,1777.2 L1378.9,1740.3 L1381.1,1644.1 L1383.8,1559.6 L1386.7,1490.5 L1389.7,1434.2 L1391.6,1408.6 L1394.6,1408.6 L1395.5,1391.8 L1397.2,1391.8 L1398.5,1375.1 L1403.0,1375.1 L1406.0,1358.3 L1406.9,1358.3 L1409.5,1375.1 L1411.8,1375.1 L1413.8,1408.6 L1419.0,1447.7 L1421.9,1483.8 L1425.5,1530.7 L1427.5,1545.4 L1429.4,1586.0 L1431.0,1623.6 L1434.0,1643.2 L1435.9,1692.0 L1438.2,1711.6 L1440.8,1760.4 L1442.5,1760.4 L1443.3,1760.4 L1444.4,1725.3 L1446.6,1633.4 L1449.3,1552.7 L1452.3,1486.8 L1455.2,1433.0 L1457.1,1408.6 L1460.1,1408.6 L1461.1,1398.1 L1462.7,1398.1 L1464.0,1375.1 L1477.3,1375.1 L1479.3,1408.6 L1484.5,1442.1 L1487.4,1473.1 L1491.0,1513.3 L1493.0,1525.9 L1494.9,1560.6 L1496.6,1592.9 L1499.5,1609.6 L1501.4,1651.5 L1503.7,1668.3 L1506.3,1710.2 L1508.0,1710.2 L1508.8,1710.2 L1510.0,1680.0 L1512.1,1601.3 L1514.8,1532.1 L1517.8,1475.6 L1520.7,1429.5 L1522.7,1408.6 L1525.6,1408.6 L1526.6,1391.8 L1528.2,1391.8 L1529.5,1375.1 L1534.1,1375.1 L1537.0,1358.3 L1538.0,1358.3 L1540.6,1375.1 L1542.9,1375.1 L1544.8,1408.6 L1550.0,1447.7 L1553.0,1483.8 L1556.5,1530.7 L1558.5,1545.4 L1560.5,1586.0 L1562.1,1623.6 L1565.0,1643.2 L1567.0,1692.0 L1569.2,1711.6 L1571.9,1760.4 L1573.5,1760.4 L1574.4,1760.4 L1575.5,1725.3 L1577.6,1633.4 L1580.4,1552.7 L1583.3,1486.8 L1586.2,1433.0 L1588.2,1408.6 L1591.1,1408.6 L1592.1,1398.1 L1593.7,1398.1 L1595.0,1375.1 L1608.4,1375.1 L1610.3,1408.6 L1615.5,1442.1 L1618.5,1473.1 L1622.1,1513.3 L1624.0,1525.9 L1626.0,1560.6 L1627.6,1592.9 L1629.0,1643.2" fill="none" stroke="#000" stroke-width="5.2" stroke-linejoin="round" stroke-linecap="butt" />
<line x1="1107.7" y1="1777.2" x2="1107.7" y2="1766.7" stroke="#262626" stroke-width="5.6"/>
<line x1="1107.7" y1="1274.3" x2="1107.7" y2="1284.8" stroke="#262626" stroke-width="5.6"/>
<line x1="1238.0" y1="1777.2" x2="1238.0" y2="1766.7" stroke="#262626" stroke-width="5.6"/>
<line x1="1238.0" y1="1274.3" x2="1238.0" y2="1284.8" stroke="#262626" stroke-width="5.6"/>
<line x1="1368.4" y1="1777.2" x2="1368.4" y2="1766.7" stroke="#262626" stroke-width="5.6"/>
<line x1="1368.4" y1="1274.3" x2="1368.4" y2="1284.8" stroke="#262626" stroke-width="5.6"/>
<line x1="1498.7" y1="1777.2" x2="1498.7" y2="1766.7" stroke="#262626" stroke-width="5.6"/>
<line x1="1498.7" y1="1274.3" x2="1498.7" y2="1284.8" stroke="#262626" stroke-width="5.6"/>
<line x1="1629.0" y1="1777.2" x2="1629.0" y2="1766.7" stroke="#262626" stroke-width="5.6"/>
<line x1="1629.0" y1="1274.3" x2="1629.0" y2="1284.8" stroke="#262626" stroke-width="5.6"/>
<line x1="977.4" y1="1693.4" x2="987.9" y2="1693.4" stroke="#262626" stroke-width="5.6"/>
<line x1="1695.0" y1="1693.4" x2="1684.5" y2="1693.4" stroke="#262626" stroke-width="5.6"/>
<line x1="977.4" y1="1609.6" x2="987.9" y2="1609.6" stroke="#262626" stroke-width="5.6"/>
<line x1="1695.0" y1="1609.6" x2="1684.5" y2="1609.6" stroke="#262626" stroke-width="5.6"/>
<line x1="977.4" y1="1525.9" x2="987.9" y2="1525.9" stroke="#262626" stroke-width="5.6"/>
<line x1="1695.0" y1="1525.9" x2="1684.5" y2="1525.9" stroke="#262626" stroke-width="5.6"/>
<line x1="977.4" y1="1442.1" x2="987.9" y2="1442.1" stroke="#262626" stroke-width="5.6"/>
<line x1="1695.0" y1="1442.1" x2="1684.5" y2="1442.1" stroke="#262626" stroke-width="5.6"/>
<line x1="977.4" y1="1358.3" x2="987.9" y2="1358.3" stroke="#262626" stroke-width="5.6"/>
<line x1="1695.0" y1="1358.3" x2="1684.5" y2="1358.3" stroke="#262626" stroke-width="5.6"/>
<rect x="977.4" y="1274.3" width="717.6" height="502.9" fill="none" stroke="#262626" stroke-width="6.2"/>
<text transform="translate(966.3,1777.5) scale(0.9,1)" font-size="40" text-anchor="end" fill="#333333" >0</text>
<text transform="translate(960.0,1693.7) scale(0.9,1)" font-size="40" text-anchor="end" fill="#333333" >0.2</text>
<text transform="translate(960.0,1609.9) scale(0.9,1)" font-size="40" text-anchor="end" fill="#333333" >0.4</text>
<text transform="translate(960.0,1526.2) scale(0.9,1)" font-size="40" text-anchor="end" fill="#333333" >0.6</text>
<text transform="translate(960.0,1442.4) scale(0.9,1)" font-size="40" text-anchor="end" fill="#333333" >0.8</text>
<text transform="translate(966.3,1358.6) scale(0.9,1)" font-size="40" text-anchor="end" fill="#333333" >1</text>
<text transform="translate(975.4,1812.8) scale(0.9,1)" font-size="40" text-anchor="middle" fill="#333333" >0</text>
<text transform="translate(1103.7,1812.8) scale(0.9,1)" font-size="40" text-anchor="middle" fill="#333333" >20</text>
<text transform="translate(1234.0,1812.8) scale(0.9,1)" font-size="40" text-anchor="middle" fill="#333333" >40</text>
<text transform="translate(1364.4,1812.8) scale(0.9,1)" font-size="40" text-anchor="middle" fill="#333333" >60</text>
<text transform="translate(1494.7,1812.8) scale(0.9,1)" font-size="40" text-anchor="middle" fill="#333333" >80</text>
<text transform="translate(1625.0,1812.8) scale(0.9,1)" font-size="40" text-anchor="middle" fill="#333333" >100</text>
<text x="1588.0" y="1313.4" font-size="34.5" text-anchor="middle" font-weight="normal" fill="#1a1a1a" >100 Hz</text>
<path d="M977.4,2123.6 L982.6,2279.3 L984.2,2279.3 L987.3,2083.8 L991.2,1964.0 L992.6,1964.0 L994.3,1993.4 L1004.5,2279.3 L1006.1,2279.3 L1009.3,2083.8 L1013.6,1964.0 L1015.0,1964.0 L1016.7,1993.4 L1025.8,2296.8 L1027.4,2296.8 L1031.1,2090.5 L1036.0,1964.0 L1037.4,1964.0 L1039.1,1993.4 L1048.2,2296.8 L1049.8,2296.8 L1053.0,2101.3 L1057.3,1981.5 L1058.7,1981.5 L1060.4,2010.9 L1070.0,2313.8 L1071.6,2313.8 L1074.6,2118.7 L1078.6,1999.1 L1080.0,1999.1 L1081.7,2028.5 L1090.2,2330.8 L1091.8,2330.8 L1096.1,2103.4 L1101.5,1964.0 L1102.9,1964.0 L1104.6,1993.4 L1113.7,2296.8 L1115.3,2296.8 L1118.6,2112.2 L1122.8,1999.1 L1124.2,1999.1 L1125.9,2028.5 L1134.5,2313.8 L1136.1,2313.8 L1140.1,2096.9 L1145.2,1964.0 L1146.6,1964.0 L1148.3,1993.4 L1155.8,2279.3 L1157.4,2279.3 L1161.4,2105.6 L1166.5,1999.1 L1167.9,1999.1 L1169.6,2028.5 L1178.7,2348.4 L1180.3,2348.4 L1183.6,2120.9 L1187.9,1981.5 L1189.3,1981.5 L1191.0,2010.9 L1200.0,2296.8 L1201.6,2296.8 L1205.6,2101.3 L1210.8,1981.5 L1212.2,1981.5 L1213.9,2010.9 L1221.3,2313.8 L1222.9,2313.8 L1226.9,2107.8 L1232.1,1981.5 L1233.5,1981.5 L1235.2,2010.9 L1242.6,2313.8 L1244.2,2313.8 L1248.2,2096.9 L1253.4,1964.0 L1254.8,1964.0 L1256.5,1993.4 L1265.5,2313.8 L1267.1,2313.8 L1270.9,2118.7 L1275.8,1999.1 L1277.2,1999.1 L1278.9,2028.5 L1286.3,2313.8 L1287.9,2313.8 L1291.9,2118.7 L1297.1,1999.1 L1298.5,1999.1 L1300.2,2028.5 L1310.3,2313.8 L1311.9,2313.8 L1314.2,2107.8 L1317.3,1981.5 L1318.7,1981.5 L1320.4,2010.9 L1330.5,2313.8 L1332.1,2313.8 L1335.4,2096.9 L1339.7,1964.0 L1341.1,1964.0 L1342.8,1993.4 L1351.9,2296.8 L1353.5,2296.8 L1357.0,2090.5 L1361.6,1964.0 L1363.0,1964.0 L1364.7,1993.4 L1374.2,2279.3 L1375.8,2279.3 L1379.4,2116.1 L1383.9,2016.1 L1385.3,2016.1 L1387.0,2045.5 L1395.6,2384.0 L1397.2,2384.0 L1400.7,2145.4 L1405.2,1999.1 L1406.6,1999.1 L1408.3,2028.5 L1416.9,2348.4 L1418.5,2348.4 L1422.5,2110.1 L1427.6,1964.0 L1429.0,1964.0 L1430.7,1993.4 L1438.7,2296.8 L1440.3,2296.8 L1443.6,2101.3 L1447.9,1981.5 L1449.3,1981.5 L1451.0,2010.9 L1461.1,2330.8 L1462.7,2330.8 L1466.0,2125.2 L1470.2,1999.1 L1471.6,1999.1 L1473.3,2028.5 L1482.4,2348.4 L1484.0,2348.4 L1488.0,2120.9 L1493.2,1981.5 L1494.6,1981.5 L1496.3,2010.9 L1505.3,2313.8 L1506.9,2313.8 L1510.2,2107.8 L1514.5,1981.5 L1515.9,1981.5 L1517.6,2010.9 L1526.1,2313.8 L1527.7,2313.8 L1531.7,2118.7 L1536.8,1999.1 L1538.2,1999.1 L1539.9,2028.5 L1547.4,2330.8 L1549.0,2330.8 L1552.5,2114.3 L1557.1,1981.5 L1558.5,1981.5 L1560.2,2010.9 L1570.8,2330.8 L1572.4,2330.8 L1575.5,2114.3 L1579.5,1981.5 L1580.9,1981.5 L1582.6,2010.9 L1591.6,2330.8 L1593.2,2330.8 L1596.7,2125.2 L1601.3,1999.1 L1602.7,1999.1 L1604.4,2028.5 L1612.9,2330.8 L1614.5,2330.8 L1618.3,2114.3 L1623.2,1981.5 L1624.6,1981.5 L1626.3,2010.9 L1629.0,2119.4" fill="none" stroke="#000" stroke-width="5.0" stroke-linejoin="round" stroke-linecap="butt" />
<line x1="1107.7" y1="2384.0" x2="1107.7" y2="2373.5" stroke="#262626" stroke-width="5.6"/>
<line x1="1107.7" y1="1880.4" x2="1107.7" y2="1890.9" stroke="#262626" stroke-width="5.6"/>
<line x1="1238.0" y1="2384.0" x2="1238.0" y2="2373.5" stroke="#262626" stroke-width="5.6"/>
<line x1="1238.0" y1="1880.4" x2="1238.0" y2="1890.9" stroke="#262626" stroke-width="5.6"/>
<line x1="1368.4" y1="2384.0" x2="1368.4" y2="2373.5" stroke="#262626" stroke-width="5.6"/>
<line x1="1368.4" y1="1880.4" x2="1368.4" y2="1890.9" stroke="#262626" stroke-width="5.6"/>
<line x1="1498.7" y1="2384.0" x2="1498.7" y2="2373.5" stroke="#262626" stroke-width="5.6"/>
<line x1="1498.7" y1="1880.4" x2="1498.7" y2="1890.9" stroke="#262626" stroke-width="5.6"/>
<line x1="1629.0" y1="2384.0" x2="1629.0" y2="2373.5" stroke="#262626" stroke-width="5.6"/>
<line x1="1629.0" y1="1880.4" x2="1629.0" y2="1890.9" stroke="#262626" stroke-width="5.6"/>
<line x1="977.4" y1="2300.0" x2="987.9" y2="2300.0" stroke="#262626" stroke-width="5.6"/>
<line x1="1695.0" y1="2300.0" x2="1684.5" y2="2300.0" stroke="#262626" stroke-width="5.6"/>
<line x1="977.4" y1="2216.0" x2="987.9" y2="2216.0" stroke="#262626" stroke-width="5.6"/>
<line x1="1695.0" y1="2216.0" x2="1684.5" y2="2216.0" stroke="#262626" stroke-width="5.6"/>
<line x1="977.4" y1="2132.0" x2="987.9" y2="2132.0" stroke="#262626" stroke-width="5.6"/>
<line x1="1695.0" y1="2132.0" x2="1684.5" y2="2132.0" stroke="#262626" stroke-width="5.6"/>
<line x1="977.4" y1="2048.0" x2="987.9" y2="2048.0" stroke="#262626" stroke-width="5.6"/>
<line x1="1695.0" y1="2048.0" x2="1684.5" y2="2048.0" stroke="#262626" stroke-width="5.6"/>
<line x1="977.4" y1="1964.0" x2="987.9" y2="1964.0" stroke="#262626" stroke-width="5.6"/>
<line x1="1695.0" y1="1964.0" x2="1684.5" y2="1964.0" stroke="#262626" stroke-width="5.6"/>
<rect x="977.4" y="1880.4" width="717.6" height="503.6" fill="none" stroke="#262626" stroke-width="6.2"/>
<text transform="translate(966.3,2384.3) scale(0.9,1)" font-size="40" text-anchor="end" fill="#333333" >0</text>
<text transform="translate(960.0,2300.3) scale(0.9,1)" font-size="40" text-anchor="end" fill="#333333" >0.2</text>
<text transform="translate(960.0,2216.3) scale(0.9,1)" font-size="40" text-anchor="end" fill="#333333" >0.4</text>
<text transform="translate(960.0,2132.3) scale(0.9,1)" font-size="40" text-anchor="end" fill="#333333" >0.6</text>
<text transform="translate(960.0,2048.3) scale(0.9,1)" font-size="40" text-anchor="end" fill="#333333" >0.8</text>
<text transform="translate(966.3,1964.3) scale(0.9,1)" font-size="40" text-anchor="end" fill="#333333" >1</text>
<text transform="translate(975.4,2419.6) scale(0.9,1)" font-size="40" text-anchor="middle" fill="#333333" >0</text>
<text transform="translate(1103.7,2419.6) scale(0.9,1)" font-size="40" text-anchor="middle" fill="#333333" >20</text>
<text transform="translate(1234.0,2419.6) scale(0.9,1)" font-size="40" text-anchor="middle" fill="#333333" >40</text>
<text transform="translate(1364.4,2419.6) scale(0.9,1)" font-size="40" text-anchor="middle" fill="#333333" >60</text>
<text transform="translate(1494.7,2419.6) scale(0.9,1)" font-size="40" text-anchor="middle" fill="#333333" >80</text>
<text transform="translate(1625.0,2419.6) scale(0.9,1)" font-size="40" text-anchor="middle" fill="#333333" >100</text>
<text x="1587.0" y="1922.6" font-size="34.5" text-anchor="middle" font-weight="normal" fill="#1a1a1a" >300 Hz</text>
<text x="1302.0" y="2478.6" font-size="43.5" text-anchor="middle" font-weight="normal" fill="#333333" letter-spacing="1.6">Time (ms)</text>
<text transform="translate(900.5,1811.3) rotate(-90) scale(0.945,1)" font-size="45.5" text-anchor="middle" fill="#333333" letter-spacing="0.75">Normalized response (a.u.)</text>
</svg>
</body></html>
